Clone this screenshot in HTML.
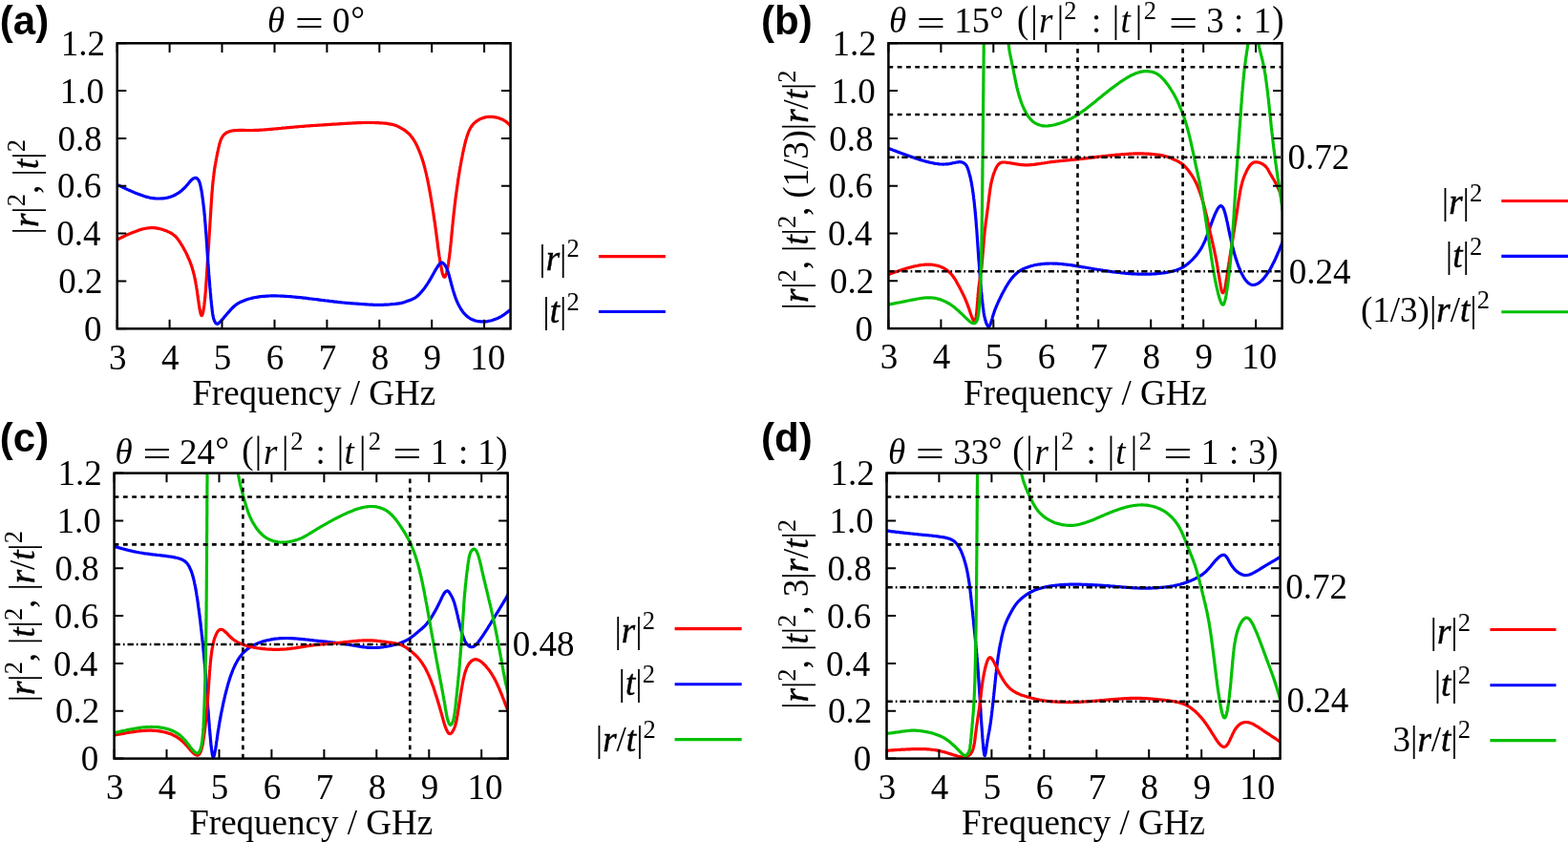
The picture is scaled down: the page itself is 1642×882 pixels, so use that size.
<!DOCTYPE html>
<html><head><meta charset="utf-8"><style>html,body{margin:0;padding:0;background:#fff;overflow:hidden}svg{display:block}</style></head>
<body>
<svg width="1642" height="882" viewBox="0 0 1642 882">
<rect width="100%" height="100%" fill="#fff"/>
<defs>
<clipPath id="clipa"><rect x="122.7" y="45.3" width="411.90000000000003" height="299.0"/></clipPath>
<clipPath id="clipb"><rect x="930.4" y="45.3" width="412.19999999999993" height="298.8"/></clipPath>
<clipPath id="clipc"><rect x="119.6" y="495.6" width="412.1" height="299.0"/></clipPath>
<clipPath id="clipd"><rect x="928.5" y="495.6" width="412.0999999999999" height="299.0"/></clipPath>
</defs>
<g clip-path="url(#clipa)" fill="none" stroke-width="3.2" stroke-linejoin="round" stroke-linecap="round">
<path stroke="#ff0000" d="M121.6,251.6 L122.9,251.0 L124.2,250.3 L125.5,249.6 L126.8,249.0 L128.2,248.3 L129.5,247.7 L130.8,247.1 L132.2,246.4 L133.6,245.8 L134.9,245.2 L136.3,244.6 L137.7,244.0 L139.2,243.4 L140.5,242.9 L141.8,242.4 L143.2,241.9 L144.5,241.4 L145.9,240.9 L147.3,240.5 L148.7,240.1 L150.1,239.8 L151.5,239.5 L152.9,239.2 L154.3,239.0 L155.8,238.8 L157.2,238.7 L158.6,238.6 L160.0,238.7 L161.6,238.7 L163.1,238.9 L164.6,239.1 L166.0,239.4 L167.5,239.7 L168.9,240.0 L170.3,240.5 L171.7,240.9 L173.0,241.4 L174.2,241.8 L175.4,242.4 L176.6,242.9 L177.6,243.4 L178.8,244.0 L180.0,244.7 L181.0,245.4 L182.0,246.2 L183.0,247.0 L184.0,247.9 L184.9,248.9 L185.9,250.1 L186.5,251.0 L187.3,252.0 L188.0,253.0 L188.7,254.1 L189.4,255.3 L190.2,256.5 L190.9,257.7 L191.7,259.0 L192.4,260.3 L193.1,261.7 L193.9,263.0 L194.6,264.4 L195.3,265.8 L196.0,267.3 L196.6,268.7 L197.3,270.2 L197.9,271.6 L198.5,273.0 L199.0,274.3 L199.5,275.6 L200.0,276.9 L200.4,278.1 L200.8,279.4 L201.3,280.7 L201.6,282.0 L202.0,283.3 L202.4,284.6 L202.7,285.9 L203.1,287.2 L203.4,288.6 L203.7,290.0 L204.0,291.4 L204.3,292.8 L204.6,294.2 L204.9,295.7 L205.1,297.2 L205.4,298.8 L205.7,300.4 L205.9,302.0 L206.2,303.7 L206.5,305.5 L206.7,307.4 L207.0,309.3 L207.3,311.3 L207.5,313.2 L207.8,315.1 L208.1,316.9 L208.3,318.7 L208.6,320.4 L208.8,322.1 L209.1,323.6 L209.4,325.1 L209.6,326.4 L209.9,327.5 L210.1,328.5 L210.4,329.3 L210.6,330.0 L210.9,330.4 L211.1,330.6 L211.5,330.5 L211.9,329.8 L212.2,328.8 L212.6,327.4 L212.9,325.6 L213.3,323.7 L213.6,321.6 L213.9,319.4 L214.0,318.1 L214.2,316.7 L214.3,315.4 L214.5,314.0 L214.6,312.6 L214.8,311.3 L214.9,309.9 L215.0,308.5 L215.1,307.0 L215.3,305.6 L215.4,304.2 L215.5,302.7 L215.6,301.2 L215.7,299.8 L215.8,298.3 L215.9,296.7 L216.0,295.2 L216.1,293.7 L216.2,292.1 L216.3,290.6 L216.4,289.0 L216.5,287.4 L216.6,285.7 L216.7,284.4 L216.8,283.1 L216.9,281.7 L217.0,280.4 L217.0,279.0 L217.1,277.7 L217.2,276.3 L217.3,274.9 L217.4,273.5 L217.5,272.1 L217.6,270.6 L217.7,269.2 L217.8,267.8 L217.9,266.3 L218.0,264.9 L218.1,263.4 L218.2,262.0 L218.3,260.5 L218.4,259.0 L218.5,257.5 L218.6,256.0 L218.7,254.5 L218.7,253.0 L218.8,251.5 L218.9,250.0 L219.0,248.5 L219.1,247.0 L219.2,245.5 L219.3,243.9 L219.4,242.4 L219.5,240.9 L219.6,239.3 L219.7,237.8 L219.8,236.2 L219.9,234.7 L220.0,233.1 L220.1,231.5 L220.2,229.9 L220.3,228.3 L220.4,226.7 L220.5,225.1 L220.6,223.5 L220.7,221.9 L220.8,220.3 L220.9,218.7 L221.0,217.1 L221.1,215.6 L221.2,214.0 L221.3,212.4 L221.4,210.9 L221.5,209.3 L221.6,207.8 L221.7,206.3 L221.8,204.7 L221.9,203.2 L222.0,201.8 L222.2,200.3 L222.3,198.8 L222.4,197.4 L222.5,195.9 L222.6,194.5 L222.8,193.1 L222.9,191.7 L223.0,190.4 L223.2,189.0 L223.3,187.7 L223.5,186.4 L223.6,185.1 L223.8,183.8 L224.0,182.2 L224.2,180.6 L224.4,179.0 L224.6,177.4 L224.9,175.9 L225.1,174.4 L225.3,173.0 L225.6,171.6 L225.8,170.2 L226.1,168.8 L226.3,167.4 L226.6,166.1 L226.8,164.8 L227.1,163.5 L227.4,162.2 L227.6,160.9 L227.9,159.7 L228.1,158.4 L228.5,156.8 L228.8,155.2 L229.2,153.6 L229.5,152.1 L229.9,150.6 L230.4,149.2 L230.8,147.8 L231.3,146.5 L231.8,145.2 L232.4,144.1 L233.1,143.0 L234.0,141.7 L235.0,140.7 L236.2,139.7 L237.4,138.9 L238.8,138.2 L240.3,137.7 L241.9,137.2 L243.1,137.0 L244.3,136.8 L245.6,136.7 L247.0,136.6 L248.4,136.5 L249.8,136.4 L251.3,136.4 L252.8,136.4 L254.3,136.4 L255.9,136.4 L257.4,136.5 L259.0,136.5 L260.6,136.5 L262.2,136.5 L263.7,136.5 L265.1,136.5 L266.6,136.4 L268.0,136.4 L269.5,136.3 L271.0,136.3 L272.4,136.2 L273.9,136.1 L275.4,136.0 L276.9,135.9 L278.3,135.8 L279.8,135.7 L281.3,135.5 L282.9,135.4 L284.4,135.3 L285.9,135.1 L287.5,135.0 L288.8,134.9 L290.1,134.8 L291.5,134.6 L292.8,134.5 L294.2,134.4 L295.6,134.2 L297.0,134.1 L298.4,134.0 L299.8,133.8 L301.2,133.7 L302.6,133.6 L304.1,133.4 L305.5,133.3 L307.0,133.2 L308.5,133.0 L310.0,132.9 L311.5,132.8 L313.1,132.6 L314.6,132.5 L316.2,132.4 L317.8,132.3 L319.3,132.1 L321.0,132.0 L322.5,131.9 L324.0,131.8 L325.5,131.7 L327.0,131.6 L328.5,131.5 L330.1,131.4 L331.6,131.3 L333.2,131.2 L334.7,131.1 L336.2,131.0 L337.8,130.9 L339.3,130.8 L340.8,130.7 L342.3,130.6 L343.8,130.5 L345.3,130.4 L346.7,130.3 L348.2,130.2 L349.6,130.1 L351.0,130.1 L352.4,130.0 L353.7,129.9 L355.0,129.8 L356.3,129.7 L357.6,129.7 L358.8,129.6 L360.0,129.5 L361.5,129.4 L363.0,129.3 L364.5,129.2 L365.9,129.1 L367.2,129.1 L368.6,129.0 L369.9,128.9 L371.2,128.8 L372.6,128.8 L373.9,128.7 L375.3,128.6 L376.7,128.6 L378.2,128.6 L379.7,128.5 L381.1,128.5 L382.6,128.5 L384.0,128.5 L385.5,128.5 L387.1,128.5 L388.6,128.5 L390.2,128.5 L391.8,128.5 L393.3,128.6 L394.9,128.6 L396.5,128.7 L398.0,128.8 L399.5,128.9 L401.0,129.0 L402.5,129.1 L403.9,129.2 L405.2,129.4 L406.5,129.6 L407.7,129.8 L409.3,130.1 L410.8,130.4 L412.2,130.8 L413.5,131.2 L414.7,131.6 L415.9,132.1 L417.0,132.6 L418.2,133.2 L419.3,133.8 L420.4,134.4 L421.6,135.1 L422.8,135.8 L424.0,136.6 L425.1,137.4 L426.3,138.4 L427.5,139.4 L428.6,140.5 L429.7,141.7 L430.5,142.7 L431.3,143.7 L432.1,144.8 L432.8,145.9 L433.6,147.1 L434.3,148.3 L435.0,149.5 L435.7,150.8 L436.4,152.2 L437.0,153.5 L437.7,155.0 L438.3,156.4 L438.9,157.8 L439.5,159.3 L440.1,160.8 L440.7,162.4 L441.2,163.9 L441.7,165.3 L442.1,166.6 L442.6,168.0 L443.0,169.3 L443.4,170.7 L443.8,172.1 L444.2,173.5 L444.6,175.0 L445.0,176.4 L445.3,177.8 L445.7,179.3 L446.0,180.7 L446.4,182.2 L446.7,183.6 L447.0,185.1 L447.4,186.6 L447.7,188.1 L448.0,189.6 L448.3,191.1 L448.6,192.7 L448.9,194.2 L449.2,195.7 L449.5,197.3 L449.7,198.7 L450.0,200.0 L450.2,201.4 L450.5,202.8 L450.7,204.2 L451.0,205.6 L451.2,207.0 L451.5,208.4 L451.7,209.9 L451.9,211.3 L452.2,212.7 L452.4,214.1 L452.6,215.6 L452.9,217.0 L453.1,218.4 L453.3,219.9 L453.5,221.3 L453.8,222.8 L454.0,224.3 L454.2,225.7 L454.4,227.2 L454.6,228.6 L454.8,230.1 L455.0,231.6 L455.3,233.0 L455.5,234.5 L455.7,236.0 L455.9,237.4 L456.1,238.9 L456.3,240.4 L456.5,241.9 L456.7,243.5 L456.9,245.0 L457.1,246.5 L457.3,248.0 L457.5,249.5 L457.7,251.0 L457.9,252.5 L458.1,254.0 L458.3,255.5 L458.4,257.0 L458.6,258.5 L458.8,259.9 L459.0,261.4 L459.2,262.8 L459.4,264.2 L459.6,265.7 L459.8,267.1 L460.0,268.5 L460.3,269.8 L460.5,271.2 L460.7,272.5 L460.9,273.9 L461.1,275.2 L461.3,276.5 L461.6,277.8 L462.0,279.9 L462.4,282.0 L462.8,283.9 L463.2,285.7 L463.6,287.2 L464.1,288.4 L464.5,289.4 L465.0,290.0 L465.4,290.2 L465.8,290.0 L466.3,289.5 L466.7,288.5 L467.2,287.3 L467.6,285.8 L468.0,284.0 L468.5,282.1 L468.9,280.0 L469.2,277.8 L469.5,276.5 L469.7,275.2 L469.8,273.9 L470.0,272.6 L470.2,271.2 L470.4,269.8 L470.6,268.4 L470.8,267.0 L470.9,265.6 L471.1,264.2 L471.3,262.7 L471.4,261.2 L471.6,259.8 L471.8,258.3 L471.9,256.7 L472.1,255.2 L472.2,253.7 L472.4,252.2 L472.5,250.6 L472.7,249.1 L472.8,247.5 L473.0,246.0 L473.1,244.4 L473.3,242.8 L473.4,241.3 L473.6,239.7 L473.7,238.1 L473.9,236.6 L474.0,235.0 L474.2,233.4 L474.3,231.9 L474.5,230.3 L474.7,228.8 L474.8,227.2 L475.0,225.7 L475.2,224.1 L475.3,222.6 L475.5,221.1 L475.7,219.5 L475.9,218.0 L476.0,216.5 L476.2,215.0 L476.4,213.5 L476.6,212.0 L476.8,210.5 L476.9,209.0 L477.1,207.6 L477.3,206.1 L477.5,204.6 L477.7,203.2 L477.9,201.7 L478.1,200.3 L478.3,198.9 L478.5,197.4 L478.7,196.0 L478.9,194.6 L479.1,193.2 L479.3,191.8 L479.5,190.4 L479.7,189.1 L479.9,187.5 L480.1,186.0 L480.4,184.5 L480.6,183.0 L480.9,181.4 L481.1,180.0 L481.3,178.5 L481.6,177.0 L481.8,175.5 L482.1,174.1 L482.4,172.6 L482.6,171.2 L482.9,169.7 L483.1,168.3 L483.4,166.9 L483.7,165.5 L484.0,164.1 L484.2,162.7 L484.5,161.3 L484.8,159.9 L485.1,158.5 L485.4,157.1 L485.7,155.7 L486.1,154.1 L486.5,152.5 L486.8,150.9 L487.2,149.3 L487.6,147.7 L488.0,146.2 L488.5,144.7 L488.9,143.2 L489.4,141.8 L489.9,140.4 L490.4,139.0 L490.9,137.7 L491.5,136.4 L492.1,135.2 L492.7,134.1 L493.3,133.0 L494.0,132.0 L495.0,130.7 L496.1,129.4 L497.2,128.4 L498.4,127.4 L499.6,126.6 L500.8,125.8 L502.0,125.1 L503.3,124.5 L504.6,124.0 L505.9,123.5 L507.3,123.1 L508.7,122.7 L510.1,122.5 L511.6,122.3 L513.2,122.3 L514.5,122.3 L515.9,122.4 L517.3,122.6 L518.8,122.8 L520.2,123.1 L521.6,123.5 L523.0,123.9 L524.4,124.4 L525.7,124.9 L526.9,125.5 L528.2,126.3 L529.5,127.1 L530.6,128.0 L531.7,129.0 L532.7,129.9 L533.7,130.9 L534.7,132.0 L535.7,133.0"/>
<path stroke="#0000ff" d="M121.6,192.8 L122.9,193.5 L124.3,194.1 L125.6,194.8 L127.0,195.4 L128.3,196.1 L129.7,196.7 L131.0,197.4 L132.4,198.0 L133.7,198.6 L135.1,199.2 L136.4,199.8 L137.8,200.4 L139.2,201.0 L140.6,201.6 L142.0,202.2 L143.4,202.8 L144.8,203.3 L146.2,203.8 L147.6,204.3 L149.0,204.8 L150.4,205.3 L151.7,205.7 L153.0,206.1 L154.4,206.4 L155.7,206.8 L157.1,207.1 L158.4,207.3 L159.8,207.6 L161.1,207.7 L162.5,207.9 L163.8,208.0 L165.1,208.0 L166.4,208.0 L167.7,208.0 L169.1,207.9 L170.5,207.8 L171.9,207.7 L173.3,207.5 L174.7,207.2 L176.1,206.9 L177.5,206.5 L178.9,206.1 L180.4,205.5 L181.7,205.0 L183.0,204.3 L184.2,203.7 L185.5,202.9 L186.8,202.1 L188.0,201.3 L189.2,200.4 L190.3,199.5 L191.4,198.5 L192.5,197.6 L193.5,196.5 L194.7,195.3 L195.7,194.1 L196.8,192.9 L197.7,191.7 L198.6,190.6 L199.5,189.6 L200.4,188.6 L201.2,187.8 L202.6,186.9 L203.9,186.4 L205.1,186.3 L206.1,186.8 L207.0,187.5 L207.8,188.6 L208.4,189.5 L208.8,190.6 L209.3,191.8 L209.6,193.2 L210.0,194.8 L210.2,195.8 L210.4,196.8 L210.6,197.9 L210.8,199.0 L211.1,200.2 L211.3,201.5 L211.5,202.8 L211.7,204.2 L211.9,205.6 L212.1,207.1 L212.3,208.6 L212.5,210.1 L212.7,211.7 L212.9,213.4 L213.1,215.0 L213.3,216.7 L213.5,218.4 L213.7,220.2 L213.9,222.0 L214.0,223.3 L214.1,224.6 L214.3,226.0 L214.4,227.3 L214.5,228.7 L214.6,230.1 L214.7,231.5 L214.9,232.9 L215.0,234.3 L215.1,235.7 L215.2,237.2 L215.3,238.6 L215.4,240.1 L215.5,241.5 L215.6,243.0 L215.8,244.4 L215.9,245.9 L216.0,247.4 L216.1,248.9 L216.2,250.3 L216.3,251.8 L216.4,253.3 L216.5,254.8 L216.6,256.3 L216.7,257.9 L216.8,259.4 L216.9,260.9 L217.0,262.4 L217.1,263.9 L217.2,265.4 L217.3,267.0 L217.4,268.5 L217.5,270.0 L217.6,271.5 L217.7,273.0 L217.8,274.6 L217.9,276.2 L218.0,277.8 L218.2,279.4 L218.3,280.9 L218.4,282.5 L218.5,284.1 L218.6,285.6 L218.7,287.2 L218.9,288.7 L219.0,290.3 L219.1,291.8 L219.2,293.3 L219.3,294.8 L219.5,296.3 L219.6,297.8 L219.7,299.3 L219.8,300.7 L220.0,302.2 L220.1,303.6 L220.2,305.0 L220.3,306.4 L220.5,307.8 L220.6,309.2 L220.7,310.5 L220.8,311.9 L220.9,313.2 L221.1,314.5 L221.2,315.7 L221.3,317.0 L221.4,318.2 L221.6,319.4 L221.8,321.3 L222.0,323.1 L222.2,324.9 L222.4,326.6 L222.6,328.2 L222.9,329.8 L223.1,331.2 L223.4,332.5 L223.7,333.8 L224.1,334.9 L224.4,335.9 L224.9,336.8 L225.7,338.2 L226.6,339.0 L227.6,339.3 L228.5,339.0 L229.4,338.3 L230.3,337.3 L231.2,336.4 L232.1,335.4 L233.1,334.3 L234.2,333.1 L235.0,332.1 L235.9,331.0 L236.9,329.9 L237.8,328.7 L238.8,327.6 L239.9,326.4 L240.9,325.2 L241.9,324.1 L242.9,323.0 L244.0,322.0 L245.0,321.0 L246.1,320.1 L247.2,319.2 L248.3,318.4 L249.6,317.6 L250.6,317.0 L251.7,316.5 L252.9,315.9 L254.1,315.4 L255.3,314.9 L256.6,314.4 L257.9,313.9 L259.3,313.5 L260.7,313.0 L262.2,312.7 L263.4,312.4 L264.7,312.1 L266.0,311.8 L267.3,311.5 L268.6,311.3 L270.0,311.1 L271.4,310.9 L272.8,310.7 L274.3,310.5 L275.8,310.4 L277.3,310.3 L278.8,310.2 L280.4,310.1 L282.0,310.0 L283.6,309.9 L285.3,309.9 L286.6,309.9 L288.0,309.9 L289.5,309.9 L290.9,310.0 L292.3,310.0 L293.8,310.1 L295.3,310.1 L296.8,310.2 L298.2,310.3 L299.7,310.4 L301.3,310.5 L302.8,310.6 L304.3,310.7 L305.8,310.8 L307.3,311.0 L308.9,311.1 L310.4,311.3 L311.9,311.4 L313.4,311.6 L314.9,311.7 L316.5,311.9 L318.0,312.1 L319.5,312.2 L321.0,312.4 L322.5,312.6 L324.0,312.8 L325.6,313.0 L327.1,313.2 L328.6,313.3 L330.1,313.5 L331.6,313.7 L333.1,313.9 L334.6,314.1 L336.1,314.3 L337.5,314.5 L339.0,314.7 L340.5,314.9 L341.9,315.0 L343.4,315.2 L344.8,315.4 L346.2,315.6 L347.7,315.7 L349.1,315.9 L350.5,316.1 L351.9,316.2 L353.4,316.4 L354.9,316.6 L356.5,316.7 L358.0,316.9 L359.6,317.0 L361.1,317.2 L362.6,317.3 L364.1,317.4 L365.6,317.6 L367.1,317.7 L368.6,317.8 L370.1,317.9 L371.5,318.0 L372.9,318.1 L374.3,318.2 L375.7,318.4 L377.1,318.4 L378.4,318.5 L379.7,318.6 L381.3,318.7 L382.8,318.8 L384.3,318.9 L385.7,319.0 L387.2,319.1 L388.6,319.2 L390.0,319.2 L391.3,319.3 L392.7,319.3 L394.1,319.4 L395.4,319.4 L396.8,319.4 L398.2,319.4 L399.7,319.3 L401.2,319.3 L402.6,319.2 L404.1,319.1 L405.5,319.1 L406.9,319.0 L408.3,318.9 L409.7,318.7 L411.0,318.6 L412.4,318.5 L413.8,318.4 L415.2,318.2 L416.5,318.1 L417.8,317.9 L419.0,317.7 L420.3,317.4 L421.5,317.1 L422.8,316.7 L424.2,316.3 L425.5,315.8 L426.7,315.3 L428.0,314.9 L429.2,314.4 L430.5,313.9 L431.8,313.4 L433.1,312.8 L434.4,312.1 L435.7,311.2 L436.6,310.5 L437.5,309.7 L438.5,308.8 L439.4,307.9 L440.3,306.9 L441.3,305.8 L442.2,304.7 L443.2,303.6 L444.1,302.4 L445.0,301.2 L445.9,299.9 L446.7,298.7 L447.6,297.4 L448.5,296.0 L449.3,294.7 L450.1,293.4 L450.8,292.1 L451.6,290.8 L452.3,289.5 L453.0,288.3 L453.7,287.1 L454.3,285.9 L455.0,284.7 L455.7,283.4 L456.5,282.2 L457.2,281.0 L457.9,279.9 L458.6,278.8 L459.2,277.9 L459.9,277.0 L460.8,276.0 L461.7,275.3 L462.7,275.0 L463.6,275.3 L464.5,276.1 L465.4,277.0 L466.1,278.0 L466.8,279.0 L467.4,280.2 L468.1,281.6 L468.7,283.3 L469.0,284.3 L469.4,285.4 L469.7,286.5 L470.1,287.7 L470.4,289.0 L470.8,290.4 L471.2,291.8 L471.6,293.2 L471.9,294.7 L472.3,296.2 L472.7,297.7 L473.1,299.3 L473.6,300.8 L474.0,302.4 L474.4,303.9 L474.9,305.4 L475.4,306.9 L475.8,308.4 L476.4,310.0 L476.9,311.6 L477.5,313.1 L478.1,314.6 L478.7,316.0 L479.3,317.4 L479.9,318.7 L480.6,320.0 L481.3,321.3 L482.0,322.5 L482.7,323.7 L483.4,324.8 L484.2,325.9 L484.9,326.9 L485.7,327.9 L486.8,329.1 L487.9,330.2 L489.0,331.2 L490.2,332.1 L491.4,333.0 L492.7,333.8 L494.0,334.5 L495.3,335.1 L496.7,335.6 L498.0,336.0 L499.3,336.3 L500.7,336.6 L502.0,336.7 L503.4,336.9 L504.8,336.9 L506.2,336.9 L507.6,336.9 L509.0,336.8 L510.4,336.6 L511.9,336.3 L513.3,336.0 L514.7,335.7 L516.1,335.3 L517.5,334.8 L518.9,334.3 L520.3,333.8 L521.6,333.2 L522.9,332.5 L524.2,331.8 L525.4,331.1 L526.6,330.3 L527.8,329.6 L529.0,328.7 L530.1,327.9 L531.3,327.0 L532.4,326.1 L533.5,325.2 L534.6,324.3 L535.7,323.4"/>
</g>
<path d="M122.7,344.3v-9.6M122.7,45.3v9.6M177.6,344.3v-9.6M177.6,45.3v9.6M232.5,344.3v-9.6M232.5,45.3v9.6M287.5,344.3v-9.6M287.5,45.3v9.6M342.4,344.3v-9.6M342.4,45.3v9.6M397.3,344.3v-9.6M397.3,45.3v9.6M452.2,344.3v-9.6M452.2,45.3v9.6M507.1,344.3v-9.6M507.1,45.3v9.6M122.7,344.3h9.6M534.6,344.3h-9.6M122.7,294.5h9.6M534.6,294.5h-9.6M122.7,244.6h9.6M534.6,244.6h-9.6M122.7,194.8h9.6M534.6,194.8h-9.6M122.7,145.0h9.6M534.6,145.0h-9.6M122.7,95.1h9.6M534.6,95.1h-9.6M122.7,45.3h9.6M534.6,45.3h-9.6" stroke="#000" stroke-width="2" fill="none"/>
<rect x="122.7" y="45.3" width="411.9" height="299.0" fill="none" stroke="#000" stroke-width="2.5"/>
<text x="87.9" y="356.9" font-family="'Liberation Serif', serif" font-size="37" text-anchor="start">0</text>
<text x="61.2" y="307.1" font-family="'Liberation Serif', serif" font-size="37" text-anchor="start">0.2</text>
<text x="59.2" y="257.2" font-family="'Liberation Serif', serif" font-size="37" text-anchor="start">0.4</text>
<text x="60.1" y="207.4" font-family="'Liberation Serif', serif" font-size="37" text-anchor="start">0.6</text>
<text x="60.6" y="157.6" font-family="'Liberation Serif', serif" font-size="37" text-anchor="start">0.8</text>
<text x="62.7" y="107.7" font-family="'Liberation Serif', serif" font-size="37" text-anchor="start">1.0</text>
<text x="63.8" y="57.9" font-family="'Liberation Serif', serif" font-size="37" text-anchor="start">1.2</text>
<text x="123.3" y="386.5" font-family="'Liberation Serif', serif" font-size="37" text-anchor="middle">3</text>
<text x="178.2" y="386.5" font-family="'Liberation Serif', serif" font-size="37" text-anchor="middle">4</text>
<text x="233.1" y="386.5" font-family="'Liberation Serif', serif" font-size="37" text-anchor="middle">5</text>
<text x="288.1" y="386.5" font-family="'Liberation Serif', serif" font-size="37" text-anchor="middle">6</text>
<text x="343.0" y="386.5" font-family="'Liberation Serif', serif" font-size="37" text-anchor="middle">7</text>
<text x="397.9" y="386.5" font-family="'Liberation Serif', serif" font-size="37" text-anchor="middle">8</text>
<text x="452.8" y="386.5" font-family="'Liberation Serif', serif" font-size="37" text-anchor="middle">9</text>
<text x="510.8" y="386.5" font-family="'Liberation Serif', serif" font-size="37" text-anchor="middle">10</text>
<text x="328.7" y="423.8" font-family="'Liberation Serif', serif" font-size="37" text-anchor="middle">Frequency / GHz</text>
<g clip-path="url(#clipb)" fill="none" stroke-width="3.2" stroke-linejoin="round" stroke-linecap="round">
<path stroke="#0000ff" d="M929.3,154.9 L930.6,155.4 L932.0,155.9 L933.3,156.4 L934.6,157.0 L935.9,157.5 L937.3,158.0 L938.6,158.5 L939.9,159.1 L941.3,159.6 L942.6,160.1 L944.0,160.6 L945.3,161.1 L946.7,161.6 L948.1,162.1 L949.4,162.6 L950.8,163.1 L952.2,163.6 L953.6,164.1 L955.0,164.6 L956.5,165.1 L957.9,165.6 L959.3,166.0 L960.8,166.5 L962.3,167.0 L963.8,167.4 L965.3,167.9 L966.8,168.3 L968.2,168.7 L969.7,169.1 L971.2,169.5 L972.6,169.9 L974.0,170.2 L975.5,170.5 L976.9,170.8 L978.2,171.1 L979.6,171.3 L980.9,171.5 L982.2,171.7 L983.5,171.9 L984.7,172.0 L985.9,172.0 L987.6,172.1 L989.3,172.0 L990.9,171.9 L992.4,171.8 L993.8,171.6 L995.2,171.3 L996.5,171.1 L997.8,170.8 L999.1,170.5 L1000.5,170.3 L1001.9,170.0 L1003.2,169.8 L1004.5,169.7 L1005.7,169.7 L1006.8,169.8 L1008.3,170.3 L1009.6,171.0 L1010.6,171.8 L1011.5,172.7 L1012.2,173.7 L1012.8,175.0 L1013.2,175.9 L1013.6,176.8 L1013.9,177.8 L1014.3,179.0 L1014.7,180.2 L1015.0,181.6 L1015.4,183.0 L1015.8,184.5 L1016.2,186.0 L1016.5,187.7 L1016.9,189.4 L1017.2,191.2 L1017.5,192.4 L1017.7,193.7 L1017.9,194.9 L1018.1,196.2 L1018.3,197.5 L1018.5,198.8 L1018.7,200.2 L1018.9,201.6 L1019.1,203.0 L1019.3,204.4 L1019.5,205.8 L1019.6,207.2 L1019.8,208.7 L1020.0,210.2 L1020.2,211.6 L1020.3,213.1 L1020.5,214.6 L1020.6,216.1 L1020.8,217.7 L1021.0,219.2 L1021.1,220.7 L1021.2,222.3 L1021.4,223.8 L1021.5,225.3 L1021.7,226.9 L1021.8,228.4 L1021.9,230.0 L1022.1,231.5 L1022.2,233.0 L1022.3,234.6 L1022.4,236.1 L1022.5,237.6 L1022.7,239.1 L1022.8,240.5 L1022.9,242.0 L1023.0,243.5 L1023.1,245.0 L1023.2,246.5 L1023.3,248.0 L1023.4,249.5 L1023.5,251.0 L1023.6,252.4 L1023.7,253.9 L1023.8,255.4 L1023.9,256.9 L1024.0,258.4 L1024.1,259.9 L1024.2,261.3 L1024.3,262.8 L1024.4,264.3 L1024.5,265.8 L1024.6,267.3 L1024.7,268.8 L1024.8,270.3 L1024.9,271.8 L1025.0,273.3 L1025.2,274.8 L1025.3,276.3 L1025.4,277.8 L1025.5,279.4 L1025.6,280.9 L1025.7,282.5 L1025.8,284.0 L1025.9,285.6 L1026.1,287.1 L1026.2,288.7 L1026.3,290.3 L1026.4,291.8 L1026.6,293.4 L1026.7,294.9 L1026.8,296.4 L1027.0,297.9 L1027.1,299.5 L1027.2,301.0 L1027.4,302.4 L1027.5,303.9 L1027.6,305.4 L1027.8,306.8 L1027.9,308.2 L1028.0,309.6 L1028.2,311.0 L1028.3,312.4 L1028.5,313.7 L1028.6,315.0 L1028.8,316.3 L1028.9,317.6 L1029.0,318.8 L1029.2,320.0 L1029.3,321.2 L1029.6,322.9 L1029.8,324.6 L1030.0,326.2 L1030.2,327.7 L1030.5,329.2 L1030.7,330.6 L1031.0,331.9 L1031.3,333.2 L1031.6,334.5 L1031.9,335.6 L1032.3,336.8 L1032.6,337.9 L1033.3,339.5 L1034.0,340.9 L1034.7,341.8 L1035.4,342.1 L1036.0,341.7 L1036.6,340.8 L1037.1,339.6 L1037.6,338.2 L1038.1,336.6 L1038.5,335.4 L1038.9,334.1 L1039.2,332.9 L1039.6,331.6 L1040.0,330.3 L1040.4,328.9 L1040.9,327.5 L1041.4,325.9 L1041.8,324.8 L1042.3,323.7 L1042.8,322.4 L1043.3,321.2 L1043.8,319.9 L1044.4,318.6 L1045.0,317.2 L1045.6,315.9 L1046.2,314.5 L1046.9,313.1 L1047.6,311.7 L1048.3,310.2 L1049.0,308.8 L1049.7,307.4 L1050.5,306.0 L1051.2,304.6 L1052.0,303.2 L1052.7,301.9 L1053.5,300.5 L1054.4,299.1 L1055.2,297.7 L1056.1,296.4 L1056.9,295.1 L1057.8,293.8 L1058.7,292.6 L1059.6,291.4 L1060.6,290.3 L1061.6,289.2 L1062.6,288.2 L1063.6,287.2 L1064.7,286.2 L1065.8,285.3 L1067.0,284.4 L1068.2,283.6 L1069.4,282.8 L1070.7,282.2 L1071.9,281.5 L1073.2,281.0 L1074.5,280.4 L1075.9,279.9 L1077.2,279.4 L1078.7,279.0 L1080.1,278.5 L1081.6,278.2 L1083.0,277.8 L1084.6,277.5 L1086.1,277.2 L1087.6,277.0 L1089.1,276.8 L1090.7,276.6 L1092.3,276.4 L1093.8,276.3 L1095.4,276.2 L1096.9,276.1 L1098.4,276.1 L1099.8,276.0 L1101.2,276.0 L1102.6,276.1 L1104.0,276.1 L1105.4,276.1 L1106.9,276.2 L1108.3,276.3 L1109.7,276.4 L1111.1,276.5 L1112.5,276.6 L1114.0,276.8 L1115.4,277.0 L1116.9,277.1 L1118.3,277.3 L1119.8,277.5 L1121.3,277.7 L1122.7,277.9 L1124.2,278.1 L1125.7,278.4 L1127.3,278.6 L1128.8,278.9 L1130.2,279.1 L1131.6,279.3 L1133.0,279.6 L1134.4,279.8 L1135.9,280.0 L1137.3,280.3 L1138.8,280.5 L1140.2,280.8 L1141.7,281.0 L1143.2,281.3 L1144.6,281.5 L1146.1,281.8 L1147.6,282.0 L1149.1,282.3 L1150.6,282.5 L1152.1,282.7 L1153.6,283.0 L1155.1,283.2 L1156.6,283.5 L1158.1,283.7 L1159.6,283.9 L1161.1,284.1 L1162.6,284.4 L1164.1,284.6 L1165.6,284.8 L1167.1,285.0 L1168.5,285.2 L1170.0,285.3 L1171.6,285.5 L1173.2,285.7 L1174.7,285.9 L1176.3,286.0 L1177.9,286.2 L1179.4,286.3 L1180.9,286.4 L1182.5,286.6 L1184.0,286.7 L1185.5,286.8 L1187.0,286.9 L1188.5,286.9 L1189.9,287.0 L1191.4,287.1 L1192.8,287.1 L1194.3,287.2 L1195.7,287.2 L1197.1,287.2 L1198.5,287.2 L1199.9,287.2 L1201.2,287.2 L1202.6,287.2 L1203.9,287.1 L1205.2,287.1 L1206.8,287.0 L1208.4,286.9 L1210.0,286.8 L1211.5,286.7 L1213.0,286.5 L1214.5,286.4 L1216.0,286.2 L1217.4,286.0 L1218.8,285.8 L1220.2,285.6 L1221.5,285.4 L1222.9,285.1 L1224.1,284.9 L1225.4,284.6 L1226.6,284.3 L1228.1,284.0 L1229.6,283.6 L1231.0,283.2 L1232.4,282.7 L1233.7,282.2 L1235.1,281.7 L1236.4,281.1 L1237.7,280.4 L1239.1,279.7 L1240.4,278.9 L1241.5,278.1 L1242.6,277.3 L1243.7,276.5 L1244.8,275.6 L1245.8,274.6 L1246.9,273.6 L1248.0,272.6 L1249.0,271.6 L1250.0,270.5 L1251.0,269.4 L1252.0,268.3 L1252.9,267.2 L1253.8,266.0 L1254.7,264.9 L1255.4,263.8 L1256.2,262.8 L1256.9,261.7 L1257.6,260.6 L1258.3,259.4 L1258.9,258.3 L1259.5,257.1 L1260.1,255.8 L1260.8,254.5 L1261.4,253.2 L1262.0,251.8 L1262.6,250.3 L1263.2,248.8 L1263.8,247.2 L1264.5,245.5 L1265.1,243.8 L1265.7,242.1 L1266.3,240.4 L1266.9,238.7 L1267.5,237.0 L1268.2,235.2 L1268.8,233.4 L1269.5,231.6 L1270.1,229.9 L1270.8,228.2 L1271.5,226.5 L1272.1,224.9 L1272.8,223.4 L1273.4,222.0 L1274.1,220.7 L1274.7,219.5 L1275.3,218.4 L1276.0,217.5 L1276.6,216.8 L1277.2,216.2 L1277.7,215.8 L1278.3,215.6 L1278.9,215.7 L1279.5,215.9 L1280.0,216.5 L1280.6,217.2 L1281.1,218.1 L1281.6,219.3 L1282.1,220.6 L1282.5,222.0 L1283.0,223.6 L1283.4,225.2 L1283.9,227.0 L1284.3,228.9 L1284.7,230.8 L1285.2,232.8 L1285.6,234.8 L1286.0,236.8 L1286.3,238.3 L1286.6,239.9 L1286.9,241.4 L1287.3,242.9 L1287.6,244.4 L1287.9,245.9 L1288.2,247.5 L1288.6,249.0 L1288.9,250.5 L1289.2,252.0 L1289.6,253.4 L1289.9,254.9 L1290.3,256.4 L1290.6,257.9 L1291.0,259.3 L1291.3,260.8 L1291.7,262.2 L1292.1,263.7 L1292.5,265.1 L1292.9,266.5 L1293.3,267.9 L1293.7,269.3 L1294.2,270.7 L1294.6,272.1 L1295.1,273.5 L1295.5,274.8 L1296.0,276.2 L1296.5,277.5 L1297.0,278.9 L1297.7,280.6 L1298.4,282.4 L1299.1,284.1 L1299.9,285.7 L1300.7,287.3 L1301.5,288.8 L1302.3,290.3 L1303.2,291.6 L1304.0,292.9 L1304.9,294.0 L1305.8,295.1 L1306.8,296.0 L1307.7,296.8 L1308.7,297.4 L1309.7,297.9 L1310.7,298.3 L1311.9,298.5 L1313.1,298.4 L1314.2,298.2 L1315.5,297.8 L1316.7,297.3 L1317.9,296.6 L1319.1,295.7 L1320.3,294.7 L1321.5,293.6 L1322.7,292.3 L1323.9,291.0 L1325.0,289.6 L1325.8,288.6 L1326.5,287.5 L1327.3,286.4 L1328.0,285.3 L1328.7,284.1 L1329.5,283.0 L1330.2,281.8 L1330.9,280.5 L1331.6,279.2 L1332.2,278.0 L1332.9,276.6 L1333.6,275.3 L1334.3,274.0 L1334.9,272.6 L1335.6,271.2 L1336.2,269.8 L1336.9,268.3 L1337.5,266.9 L1338.1,265.4 L1338.8,264.0 L1339.4,262.5 L1340.0,261.0 L1340.6,259.5 L1341.2,258.0 L1341.9,256.5 L1342.5,255.0 L1343.1,253.5 L1343.7,252.0"/>
<path stroke="#ff0000" d="M929.3,287.8 L930.6,287.4 L931.8,286.9 L933.1,286.5 L934.4,286.0 L935.7,285.5 L937.0,285.1 L938.3,284.6 L939.7,284.2 L941.1,283.7 L942.5,283.2 L943.9,282.8 L945.4,282.3 L946.9,281.9 L948.2,281.4 L949.6,281.0 L951.0,280.6 L952.4,280.2 L953.9,279.9 L955.3,279.5 L956.8,279.1 L958.3,278.8 L959.8,278.5 L961.3,278.2 L962.8,277.9 L964.3,277.7 L965.8,277.5 L967.4,277.3 L968.8,277.2 L970.3,277.1 L971.8,277.1 L973.3,277.1 L974.9,277.2 L976.5,277.3 L978.1,277.6 L979.7,277.8 L981.2,278.2 L982.7,278.6 L984.1,279.0 L985.5,279.6 L986.9,280.2 L988.2,280.8 L989.5,281.6 L990.7,282.3 L991.9,283.2 L993.1,284.1 L994.1,285.0 L995.1,286.0 L996.1,287.1 L997.0,288.2 L997.9,289.3 L998.7,290.5 L999.5,291.7 L1000.3,292.9 L1001.1,294.1 L1001.8,295.4 L1002.5,296.7 L1003.2,298.0 L1003.9,299.2 L1004.6,300.5 L1005.2,301.7 L1005.8,302.9 L1006.4,304.1 L1007.0,305.3 L1007.6,306.5 L1008.2,307.7 L1008.8,308.9 L1009.4,310.1 L1010.0,311.4 L1010.6,312.7 L1011.1,314.0 L1011.7,315.4 L1012.3,316.8 L1012.8,318.2 L1013.4,319.7 L1013.9,321.2 L1014.6,323.0 L1015.2,324.8 L1015.8,326.6 L1016.4,328.4 L1017.0,330.1 L1017.6,331.6 L1018.1,333.0 L1018.7,334.3 L1019.2,335.2 L1019.7,335.9 L1020.1,336.3 L1020.5,336.4 L1020.8,336.2 L1021.1,335.7 L1021.4,335.0 L1021.7,334.1 L1021.9,333.1 L1022.1,331.9 L1022.3,330.5 L1022.5,329.0 L1022.7,327.4 L1022.9,325.6 L1023.0,323.8 L1023.2,322.0 L1023.3,320.1 L1023.5,318.1 L1023.6,316.2 L1023.8,314.2 L1023.9,312.3 L1024.1,310.4 L1024.2,308.5 L1024.4,306.8 L1024.6,304.9 L1024.7,303.2 L1024.9,301.5 L1025.1,300.0 L1025.3,298.4 L1025.5,297.0 L1025.7,295.6 L1025.9,294.2 L1026.1,292.8 L1026.3,291.5 L1026.5,290.2 L1026.7,288.8 L1026.9,287.5 L1027.1,286.1 L1027.3,284.7 L1027.5,283.3 L1027.7,281.9 L1027.8,280.6 L1028.0,279.3 L1028.1,278.0 L1028.2,276.6 L1028.4,275.2 L1028.5,273.8 L1028.6,272.4 L1028.8,270.9 L1028.9,269.4 L1029.0,267.9 L1029.1,266.4 L1029.3,264.9 L1029.4,263.3 L1029.5,261.8 L1029.6,260.2 L1029.8,258.7 L1029.9,257.1 L1030.0,255.5 L1030.1,254.0 L1030.3,252.4 L1030.4,250.8 L1030.5,249.3 L1030.7,247.8 L1030.8,246.3 L1031.0,244.7 L1031.1,243.1 L1031.3,241.6 L1031.5,240.0 L1031.7,238.5 L1031.9,236.9 L1032.0,235.4 L1032.2,233.9 L1032.4,232.5 L1032.6,231.0 L1032.8,229.5 L1033.0,228.1 L1033.2,226.7 L1033.4,225.3 L1033.6,223.9 L1033.8,222.5 L1033.9,221.1 L1034.1,219.8 L1034.3,218.4 L1034.5,217.0 L1034.7,215.7 L1034.8,214.4 L1035.0,212.8 L1035.2,211.3 L1035.4,209.8 L1035.6,208.3 L1035.7,206.8 L1035.9,205.4 L1036.1,203.9 L1036.3,202.4 L1036.5,201.0 L1036.7,199.5 L1036.9,198.1 L1037.1,196.7 L1037.3,195.3 L1037.6,193.9 L1037.8,192.6 L1038.1,191.2 L1038.5,189.6 L1038.9,188.0 L1039.3,186.5 L1039.7,185.0 L1040.1,183.5 L1040.6,182.1 L1041.1,180.7 L1041.6,179.5 L1042.1,178.2 L1042.6,177.1 L1043.1,176.0 L1043.8,174.7 L1044.5,173.5 L1045.3,172.5 L1046.1,171.7 L1046.9,171.0 L1048.0,170.5 L1049.2,170.1 L1050.7,170.0 L1052.4,170.0 L1053.5,170.2 L1054.6,170.3 L1055.9,170.5 L1057.2,170.7 L1058.6,170.9 L1060.0,171.2 L1061.5,171.4 L1063.1,171.7 L1064.6,171.9 L1066.2,172.2 L1067.9,172.4 L1069.5,172.6 L1071.1,172.7 L1072.7,172.8 L1074.2,172.8 L1075.7,172.8 L1077.2,172.8 L1078.6,172.7 L1080.1,172.6 L1081.6,172.5 L1083.0,172.3 L1084.5,172.1 L1085.9,171.9 L1087.4,171.7 L1088.9,171.5 L1090.4,171.2 L1091.9,171.0 L1093.4,170.8 L1094.9,170.5 L1096.5,170.3 L1098.0,170.0 L1099.4,169.9 L1100.9,169.7 L1102.3,169.5 L1103.8,169.3 L1105.2,169.1 L1106.7,169.0 L1108.2,168.8 L1109.6,168.7 L1111.1,168.5 L1112.6,168.4 L1114.1,168.2 L1115.6,168.1 L1117.1,167.9 L1118.6,167.8 L1120.1,167.7 L1121.5,167.5 L1123.0,167.4 L1124.5,167.2 L1125.9,167.1 L1127.4,167.0 L1128.8,166.8 L1130.3,166.7 L1131.7,166.5 L1133.1,166.3 L1134.5,166.2 L1136.0,166.0 L1137.4,165.8 L1138.8,165.7 L1140.2,165.5 L1141.6,165.3 L1143.0,165.1 L1144.4,164.9 L1145.9,164.8 L1147.3,164.6 L1148.8,164.4 L1150.2,164.2 L1151.7,164.0 L1153.3,163.9 L1154.8,163.7 L1156.3,163.5 L1157.9,163.3 L1159.5,163.2 L1161.0,163.0 L1162.6,162.8 L1164.2,162.7 L1165.8,162.5 L1167.4,162.4 L1168.9,162.2 L1170.5,162.1 L1172.1,162.0 L1173.7,161.8 L1175.2,161.7 L1176.8,161.6 L1178.3,161.5 L1179.7,161.4 L1181.2,161.3 L1182.5,161.2 L1183.9,161.1 L1185.2,161.0 L1186.4,161.0 L1187.6,160.9 L1188.8,160.9 L1189.8,160.8 L1191.5,160.8 L1193.1,160.8 L1194.5,160.8 L1195.9,160.9 L1197.3,160.9 L1198.7,161.0 L1200.3,161.1 L1201.5,161.2 L1202.8,161.2 L1204.2,161.3 L1205.6,161.4 L1207.0,161.5 L1208.5,161.7 L1210.0,161.8 L1211.5,162.0 L1212.9,162.2 L1214.4,162.4 L1215.8,162.6 L1217.1,162.8 L1218.7,163.2 L1220.2,163.6 L1221.6,164.0 L1223.0,164.4 L1224.4,164.9 L1225.7,165.4 L1227.0,166.0 L1228.3,166.6 L1229.6,167.2 L1231.0,167.8 L1232.3,168.4 L1233.7,169.1 L1235.0,169.9 L1236.2,170.6 L1237.5,171.4 L1238.6,172.3 L1239.7,173.2 L1240.8,174.3 L1241.8,175.3 L1242.7,176.4 L1243.6,177.5 L1244.5,178.6 L1245.3,179.8 L1246.1,180.8 L1246.8,181.8 L1247.6,182.9 L1248.3,184.0 L1249.0,185.1 L1249.7,186.3 L1250.4,187.5 L1251.1,188.7 L1251.7,190.0 L1252.4,191.2 L1253.0,192.5 L1253.6,193.9 L1254.2,195.3 L1254.7,196.7 L1255.3,198.1 L1255.8,199.5 L1256.4,201.0 L1256.9,202.4 L1257.3,203.8 L1257.8,205.1 L1258.2,206.4 L1258.6,207.8 L1259.0,209.1 L1259.4,210.4 L1259.8,211.8 L1260.2,213.1 L1260.5,214.4 L1260.9,215.8 L1261.3,217.1 L1261.6,218.5 L1262.0,219.9 L1262.3,221.4 L1262.7,222.8 L1263.0,224.2 L1263.3,225.5 L1263.7,226.9 L1264.0,228.2 L1264.3,229.5 L1264.6,230.8 L1264.8,232.1 L1265.1,233.4 L1265.4,234.7 L1265.7,236.0 L1266.0,237.3 L1266.3,238.7 L1266.6,240.1 L1266.9,241.6 L1267.3,243.3 L1267.6,244.4 L1267.8,245.6 L1268.1,246.8 L1268.4,248.1 L1268.7,249.5 L1269.0,250.8 L1269.3,252.2 L1269.7,253.7 L1270.0,255.1 L1270.3,256.6 L1270.7,258.1 L1271.0,259.6 L1271.3,261.2 L1271.7,262.7 L1272.0,264.3 L1272.3,265.8 L1272.7,267.4 L1273.0,269.0 L1273.3,270.5 L1273.6,272.1 L1273.9,273.6 L1274.2,275.3 L1274.5,276.9 L1274.8,278.5 L1275.1,280.1 L1275.3,281.7 L1275.6,283.3 L1275.8,284.8 L1276.1,286.3 L1276.3,287.8 L1276.6,289.2 L1276.8,290.7 L1277.0,292.1 L1277.2,293.4 L1277.4,294.8 L1277.7,296.1 L1277.9,297.3 L1278.1,298.6 L1278.3,299.8 L1278.7,301.9 L1279.1,303.8 L1279.5,305.3 L1280.0,306.4 L1280.5,306.8 L1281.4,306.0 L1282.1,304.3 L1282.5,303.2 L1282.8,302.0 L1283.1,300.7 L1283.3,299.3 L1283.5,297.8 L1283.8,296.0 L1283.9,295.0 L1284.1,293.9 L1284.3,292.8 L1284.5,291.6 L1284.7,290.3 L1284.9,289.0 L1285.1,287.7 L1285.3,286.3 L1285.5,284.9 L1285.7,283.4 L1286.0,281.9 L1286.2,280.4 L1286.4,278.8 L1286.7,277.2 L1286.9,275.6 L1287.2,274.0 L1287.4,272.4 L1287.7,270.8 L1288.0,269.1 L1288.2,267.5 L1288.5,265.8 L1288.7,264.2 L1289.0,262.6 L1289.2,261.1 L1289.5,259.5 L1289.7,258.0 L1290.0,256.4 L1290.2,254.9 L1290.4,253.4 L1290.7,251.9 L1290.9,250.4 L1291.1,249.0 L1291.4,247.5 L1291.6,246.0 L1291.8,244.6 L1292.0,243.2 L1292.3,241.8 L1292.5,240.4 L1292.7,239.0 L1292.9,237.6 L1293.1,236.3 L1293.3,234.9 L1293.5,233.6 L1293.7,232.3 L1293.9,231.1 L1294.1,229.8 L1294.4,228.3 L1294.6,226.8 L1294.8,225.3 L1295.0,223.8 L1295.3,222.4 L1295.5,221.0 L1295.7,219.6 L1295.9,218.2 L1296.1,216.9 L1296.3,215.5 L1296.5,214.2 L1296.7,212.9 L1296.9,211.5 L1297.1,210.2 L1297.3,208.9 L1297.5,207.5 L1297.8,206.0 L1298.0,204.6 L1298.2,203.2 L1298.5,201.8 L1298.7,200.3 L1299.0,198.9 L1299.3,197.5 L1299.6,196.1 L1299.9,194.8 L1300.2,193.4 L1300.6,192.1 L1300.9,190.7 L1301.4,189.2 L1301.9,187.7 L1302.4,186.3 L1302.9,184.8 L1303.5,183.4 L1304.1,182.1 L1304.7,180.8 L1305.2,179.6 L1305.8,178.4 L1306.4,177.3 L1307.3,175.8 L1308.2,174.4 L1309.0,173.2 L1310.0,172.2 L1310.9,171.3 L1312.0,170.6 L1313.2,170.1 L1314.5,169.8 L1315.9,169.8 L1317.1,170.0 L1318.4,170.2 L1319.7,170.7 L1321.0,171.2 L1322.2,171.9 L1323.4,172.7 L1324.5,173.5 L1325.5,174.5 L1326.4,175.6 L1327.3,176.8 L1328.0,178.0 L1328.7,179.2 L1329.4,180.5 L1330.1,181.8 L1330.8,182.9 L1331.4,184.1 L1332.1,185.2 L1332.8,186.4 L1333.5,187.5 L1334.2,188.7 L1334.8,189.8 L1335.5,191.0 L1336.1,192.3 L1336.8,193.5 L1337.4,194.8 L1338.1,196.2 L1338.7,197.5 L1339.3,198.8 L1339.9,200.2 L1340.4,201.5 L1341.0,202.8 L1341.5,204.1 L1342.1,205.4 L1342.6,206.8 L1343.2,208.2 L1343.7,209.5 L1344.2,210.9"/>
<path stroke="#00c000" d="M929.3,319.2 L930.7,318.9 L932.1,318.7 L933.6,318.4 L935.0,318.1 L936.4,317.9 L937.8,317.6 L939.3,317.3 L940.7,317.0 L942.2,316.8 L943.6,316.5 L945.0,316.2 L946.5,315.9 L948.0,315.6 L949.4,315.3 L950.9,315.0 L952.4,314.7 L953.8,314.4 L955.2,314.1 L956.7,313.8 L958.1,313.6 L959.6,313.3 L961.0,313.0 L962.4,312.8 L963.9,312.5 L965.3,312.3 L966.8,312.2 L968.2,312.0 L969.6,311.9 L971.0,311.8 L972.4,311.8 L973.8,311.8 L975.2,311.9 L976.6,312.0 L978.1,312.2 L979.5,312.4 L981.0,312.7 L982.4,313.1 L983.8,313.5 L985.2,313.9 L986.5,314.4 L987.9,315.0 L989.2,315.6 L990.5,316.2 L991.7,316.8 L992.9,317.5 L994.1,318.2 L995.3,319.0 L996.4,319.7 L997.5,320.5 L998.6,321.3 L999.7,322.1 L1000.7,323.0 L1001.8,323.9 L1002.8,324.7 L1003.8,325.7 L1004.8,326.6 L1005.8,327.6 L1006.9,328.6 L1007.9,329.6 L1009.0,330.7 L1010.2,331.9 L1011.5,333.1 L1012.8,334.3 L1014.0,335.4 L1015.2,336.5 L1016.4,337.3 L1017.6,338.0 L1018.6,338.5 L1019.6,338.7 L1020.5,338.6 L1021.2,338.3 L1021.9,337.7 L1022.4,337.0 L1022.9,336.0 L1023.4,334.8 L1023.8,333.5 L1024.1,332.0 L1024.4,330.4 L1024.7,328.7 L1024.9,326.9 L1025.1,325.1 L1025.3,323.2 L1025.5,321.2 L1025.6,320.0 L1025.7,318.7 L1025.8,317.5 L1025.9,316.2 L1026.0,315.0 L1026.0,313.7 L1026.1,312.4 L1026.2,311.1 L1026.3,309.8 L1026.4,308.5 L1026.4,307.1 L1026.5,305.8 L1026.6,304.4 L1026.6,303.0 L1026.7,301.6 L1026.8,300.2 L1026.8,298.8 L1026.9,297.4 L1026.9,295.9 L1027.0,294.4 L1027.0,292.9 L1027.1,291.4 L1027.1,289.9 L1027.2,288.3 L1027.2,286.7 L1027.3,285.1 L1027.3,283.5 L1027.4,281.9 L1027.4,280.2 L1027.5,278.5 L1027.5,276.8 L1027.5,275.1 L1027.6,273.3 L1027.6,271.5 L1027.6,269.7 L1027.7,267.9 L1027.7,266.7 L1027.7,265.5 L1027.7,264.3 L1027.8,263.0 L1027.8,261.8 L1027.8,260.5 L1027.8,259.3 L1027.9,258.0 L1027.9,256.7 L1027.9,255.4 L1027.9,254.1 L1028.0,252.8 L1028.0,251.4 L1028.0,250.1 L1028.0,248.8 L1028.0,247.4 L1028.1,246.0 L1028.1,244.7 L1028.1,243.3 L1028.1,241.9 L1028.1,240.5 L1028.2,239.1 L1028.2,237.7 L1028.2,236.3 L1028.2,234.8 L1028.3,233.4 L1028.3,232.0 L1028.3,230.5 L1028.3,229.1 L1028.3,227.6 L1028.4,226.1 L1028.4,224.7 L1028.4,223.2 L1028.4,221.7 L1028.4,220.2 L1028.5,218.7 L1028.5,217.2 L1028.5,215.7 L1028.5,214.2 L1028.5,212.7 L1028.6,211.1 L1028.6,209.6 L1028.6,208.1 L1028.6,206.5 L1028.6,205.0 L1028.6,203.4 L1028.7,201.9 L1028.7,200.3 L1028.7,198.8 L1028.7,197.2 L1028.7,195.6 L1028.8,194.1 L1028.8,192.5 L1028.8,190.9 L1028.8,189.4 L1028.8,187.8 L1028.8,186.2 L1028.9,184.6 L1028.9,183.0 L1028.9,181.4 L1028.9,179.8 L1028.9,178.2 L1028.9,176.7 L1029.0,175.1 L1029.0,173.5 L1029.0,171.9 L1029.0,170.3 L1029.0,168.7 L1029.1,167.1 L1029.1,165.5 L1029.1,163.9 L1029.1,162.3 L1029.1,160.7 L1029.1,159.1 L1029.2,157.5 L1029.2,155.9 L1029.2,154.3 L1029.2,152.7 L1029.2,151.1 L1029.2,149.5 L1029.2,147.9 L1029.3,146.3 L1029.3,144.7 L1029.3,143.1 L1029.3,141.5 L1029.3,139.9 L1029.3,138.2 L1029.4,136.5 L1029.4,134.7 L1029.4,133.0 L1029.4,131.3 L1029.4,129.6 L1029.4,127.9 L1029.5,126.2 L1029.5,124.5 L1029.5,122.8 L1029.5,121.1 L1029.5,119.4 L1029.5,117.7 L1029.6,116.0 L1029.6,114.3 L1029.6,112.7 L1029.6,111.0 L1029.6,109.3 L1029.6,107.7 L1029.7,106.0 L1029.7,104.4 L1029.7,102.8 L1029.7,101.1 L1029.7,99.5 L1029.7,97.9 L1029.8,96.3 L1029.8,94.7 L1029.8,93.1 L1029.8,91.5 L1029.8,89.9 L1029.8,88.4 L1029.8,86.8 L1029.9,85.2 L1029.9,83.7 L1029.9,82.2 L1029.9,80.6 L1029.9,79.1 L1029.9,77.6 L1030.0,76.1 L1030.0,74.6 L1030.0,73.1 L1030.0,71.6 L1030.0,70.2 L1030.0,68.7 L1030.0,67.3 L1030.1,65.9 L1030.1,64.4 L1030.1,63.0 L1030.1,61.6 L1030.1,60.2 L1030.1,58.9 L1030.1,57.5 L1030.2,56.1 L1030.2,54.8 L1030.2,53.5 L1030.2,52.1 L1030.2,50.8 L1030.2,49.5 L1030.2,48.3 L1030.3,47.0 L1030.3,45.7 L1030.3,44.5 L1030.3,43.3 L1030.3,42.1 L1030.3,40.9 L1030.3,39.7 L1030.4,38.5 L1030.4,37.3 L1030.4,36.2 L1030.4,35.1 L1030.4,34.0 L1030.4,32.8 L1030.5,31.0 L1030.5,29.2 L1030.5,27.5 L1030.5,25.7 L1030.5,24.1 L1030.6,22.4 L1030.6,20.8 L1030.6,19.2 L1030.6,17.7 L1030.7,16.2 L1030.7,14.7 L1030.7,13.2 L1030.7,11.7 L1030.7,10.3 L1030.8,8.9 L1030.8,7.5 L1030.8,6.1 L1030.8,4.8 L1030.8,3.4 L1030.9,2.1 L1030.9,0.8 L1030.9,-0.6 L1030.9,-1.9 L1031.0,-3.2 L1031.0,-4.5"/>
<path stroke="#00c000" d="M1054.1,-4.5 L1054.1,-2.9 L1054.1,-1.3 L1054.1,0.4 L1054.2,2.0 L1054.2,3.6 L1054.2,5.2 L1054.2,6.8 L1054.3,8.4 L1054.3,10.0 L1054.3,11.6 L1054.4,13.2 L1054.4,14.8 L1054.5,16.4 L1054.5,17.9 L1054.5,19.5 L1054.6,21.0 L1054.6,22.5 L1054.7,24.0 L1054.7,25.5 L1054.8,27.0 L1054.9,28.5 L1054.9,29.9 L1055.0,31.4 L1055.1,32.8 L1055.2,34.2 L1055.3,35.6 L1055.3,36.9 L1055.4,38.3 L1055.5,39.6 L1055.6,40.9 L1055.8,42.2 L1055.9,43.4 L1056.0,44.7 L1056.1,45.9 L1056.3,47.0 L1056.5,48.7 L1056.7,50.2 L1056.9,51.8 L1057.1,53.2 L1057.4,54.7 L1057.6,56.1 L1057.9,57.5 L1058.2,58.9 L1058.4,60.2 L1058.7,61.5 L1059.0,62.8 L1059.3,64.2 L1059.5,65.5 L1059.8,66.8 L1060.1,68.1 L1060.4,69.4 L1060.7,70.7 L1060.9,72.0 L1061.2,73.4 L1061.5,74.8 L1061.7,76.1 L1062.0,77.5 L1062.3,78.9 L1062.6,80.3 L1062.8,81.7 L1063.1,83.1 L1063.4,84.5 L1063.7,85.9 L1064.0,87.4 L1064.3,88.8 L1064.6,90.2 L1064.9,91.6 L1065.3,93.0 L1065.6,94.4 L1066.0,95.8 L1066.4,97.3 L1066.8,98.7 L1067.2,100.2 L1067.6,101.6 L1068.1,103.0 L1068.6,104.4 L1069.0,105.8 L1069.5,107.1 L1070.0,108.5 L1070.5,109.8 L1071.1,111.1 L1071.6,112.3 L1072.2,113.6 L1072.7,114.8 L1073.5,116.2 L1074.2,117.6 L1075.0,119.0 L1075.8,120.3 L1076.6,121.6 L1077.4,122.7 L1078.3,123.8 L1079.2,124.9 L1080.1,125.8 L1081.0,126.7 L1082.2,127.7 L1083.5,128.6 L1084.8,129.3 L1086.1,130.0 L1087.4,130.5 L1088.7,131.0 L1089.9,131.3 L1091.1,131.6 L1092.3,131.8 L1093.6,131.9 L1094.9,132.0 L1096.4,132.0 L1097.6,131.9 L1098.8,131.7 L1100.2,131.5 L1101.5,131.3 L1103.0,131.0 L1104.4,130.7 L1105.9,130.3 L1107.3,129.9 L1108.8,129.4 L1110.3,129.0 L1111.8,128.5 L1113.1,128.0 L1114.5,127.5 L1115.8,126.9 L1117.1,126.4 L1118.4,125.8 L1119.7,125.2 L1121.0,124.5 L1122.3,123.9 L1123.6,123.1 L1124.9,122.4 L1126.2,121.6 L1127.5,120.8 L1128.8,120.0 L1129.9,119.3 L1131.0,118.5 L1132.1,117.7 L1133.3,116.9 L1134.4,116.1 L1135.5,115.3 L1136.7,114.5 L1137.8,113.6 L1138.9,112.7 L1140.1,111.8 L1141.2,110.9 L1142.4,110.0 L1143.5,109.1 L1144.6,108.2 L1145.8,107.3 L1146.9,106.4 L1148.0,105.5 L1149.1,104.6 L1150.3,103.6 L1151.4,102.7 L1152.5,101.8 L1153.6,100.9 L1154.7,100.0 L1155.8,99.1 L1156.9,98.2 L1158.1,97.3 L1159.2,96.4 L1160.3,95.6 L1161.4,94.7 L1162.5,93.8 L1163.7,92.9 L1164.8,92.1 L1166.0,91.2 L1167.1,90.3 L1168.3,89.5 L1169.5,88.6 L1170.8,87.7 L1172.0,86.8 L1173.3,85.9 L1174.6,85.0 L1176.0,84.2 L1177.3,83.3 L1178.6,82.5 L1179.9,81.7 L1181.2,80.9 L1182.5,80.2 L1183.7,79.5 L1185.0,78.8 L1186.2,78.2 L1187.4,77.7 L1188.6,77.1 L1189.8,76.7 L1191.3,76.2 L1192.7,75.7 L1194.1,75.4 L1195.4,75.1 L1196.8,74.9 L1198.1,74.7 L1199.4,74.7 L1200.6,74.6 L1201.9,74.7 L1203.3,74.8 L1204.7,75.0 L1206.1,75.2 L1207.4,75.6 L1208.8,76.0 L1210.2,76.6 L1211.5,77.3 L1212.9,78.2 L1214.0,79.0 L1215.0,79.8 L1216.1,80.8 L1217.1,81.8 L1218.2,82.9 L1219.2,84.1 L1220.2,85.2 L1221.1,86.5 L1222.1,87.7 L1223.0,88.9 L1223.9,90.2 L1224.7,91.4 L1225.5,92.6 L1226.4,94.0 L1227.2,95.3 L1228.0,96.5 L1228.8,97.8 L1229.5,99.1 L1230.1,100.3 L1230.8,101.5 L1231.4,102.8 L1232.1,104.0 L1232.7,105.3 L1233.3,106.5 L1233.8,107.8 L1234.4,109.0 L1234.9,110.3 L1235.5,111.6 L1236.0,112.9 L1236.6,114.2 L1237.1,115.6 L1237.7,116.9 L1238.2,118.3 L1238.7,119.8 L1239.2,120.9 L1239.6,122.1 L1240.0,123.3 L1240.4,124.6 L1240.9,125.8 L1241.3,127.1 L1241.7,128.4 L1242.1,129.7 L1242.5,131.1 L1242.9,132.4 L1243.3,133.9 L1243.7,135.3 L1244.1,136.8 L1244.5,138.3 L1244.9,139.8 L1245.3,141.4 L1245.7,142.8 L1246.0,144.2 L1246.3,145.6 L1246.7,147.1 L1247.0,148.5 L1247.3,150.0 L1247.6,151.5 L1248.0,153.0 L1248.3,154.5 L1248.6,156.0 L1248.9,157.5 L1249.3,159.0 L1249.6,160.5 L1249.9,161.9 L1250.2,163.4 L1250.5,164.9 L1250.8,166.3 L1251.1,167.7 L1251.4,169.1 L1251.6,170.4 L1251.9,171.7 L1252.2,173.0 L1252.5,174.3 L1252.8,175.7 L1253.1,177.2 L1253.4,178.5 L1253.7,179.9 L1254.0,181.2 L1254.3,182.5 L1254.6,183.9 L1254.9,185.2 L1255.2,186.6 L1255.5,188.0 L1255.8,189.4 L1256.1,190.9 L1256.4,192.5 L1256.7,194.1 L1257.1,195.9 L1257.4,197.7 L1257.6,198.8 L1257.8,199.9 L1258.0,201.1 L1258.2,202.3 L1258.4,203.5 L1258.7,204.8 L1258.9,206.1 L1259.1,207.4 L1259.3,208.8 L1259.5,210.1 L1259.8,211.5 L1260.0,212.9 L1260.2,214.4 L1260.4,215.8 L1260.7,217.3 L1260.9,218.8 L1261.1,220.3 L1261.4,221.8 L1261.6,223.4 L1261.9,224.9 L1262.1,226.5 L1262.3,228.1 L1262.6,229.6 L1262.8,231.2 L1263.1,232.8 L1263.3,234.4 L1263.5,236.0 L1263.8,237.6 L1264.0,239.2 L1264.3,240.9 L1264.5,242.5 L1264.8,244.1 L1265.0,245.7 L1265.2,247.3 L1265.5,248.9 L1265.7,250.4 L1265.9,252.0 L1266.2,253.6 L1266.4,255.1 L1266.6,256.7 L1266.9,258.2 L1267.1,259.7 L1267.3,261.2 L1267.5,262.7 L1267.8,264.1 L1268.0,265.6 L1268.2,267.0 L1268.4,268.4 L1268.7,270.2 L1269.0,272.0 L1269.2,273.7 L1269.5,275.4 L1269.7,277.0 L1270.0,278.7 L1270.3,280.3 L1270.5,281.8 L1270.8,283.3 L1271.0,284.8 L1271.3,286.3 L1271.5,287.7 L1271.8,289.2 L1272.0,290.6 L1272.3,291.9 L1272.5,293.3 L1272.8,294.6 L1273.0,295.9 L1273.3,297.2 L1273.6,298.5 L1273.8,299.7 L1274.1,301.0 L1274.4,302.2 L1274.7,303.4 L1275.0,304.6 L1275.3,305.8 L1275.5,307.0 L1276.1,309.0 L1276.6,311.0 L1277.2,312.9 L1277.8,314.6 L1278.3,316.1 L1278.9,317.4 L1279.4,318.3 L1280.0,319.0 L1280.5,319.2 L1281.0,319.0 L1281.5,318.5 L1281.9,317.6 L1282.4,316.4 L1282.8,314.9 L1283.2,313.2 L1283.6,311.3 L1284.0,309.2 L1284.3,307.0 L1284.5,305.8 L1284.7,304.5 L1284.9,303.2 L1285.1,301.9 L1285.3,300.6 L1285.5,299.3 L1285.7,297.9 L1285.9,296.5 L1286.1,295.1 L1286.3,293.7 L1286.4,292.2 L1286.6,290.8 L1286.8,289.3 L1287.0,287.8 L1287.1,286.3 L1287.3,284.8 L1287.5,283.2 L1287.6,281.7 L1287.8,280.1 L1288.0,278.6 L1288.1,277.0 L1288.3,275.4 L1288.4,273.9 L1288.6,272.3 L1288.7,270.7 L1288.9,269.1 L1289.0,267.5 L1289.2,265.9 L1289.3,264.3 L1289.4,262.7 L1289.6,261.1 L1289.7,259.5 L1289.8,257.9 L1290.0,256.5 L1290.1,255.0 L1290.2,253.6 L1290.3,252.1 L1290.4,250.7 L1290.5,249.3 L1290.6,247.8 L1290.7,246.4 L1290.8,244.9 L1290.9,243.5 L1291.0,242.0 L1291.1,240.6 L1291.2,239.2 L1291.3,237.7 L1291.4,236.3 L1291.5,234.8 L1291.6,233.4 L1291.7,231.9 L1291.8,230.4 L1291.9,229.0 L1292.0,227.5 L1292.1,226.0 L1292.2,224.5 L1292.2,223.1 L1292.3,221.6 L1292.4,220.1 L1292.5,218.6 L1292.6,217.0 L1292.7,215.5 L1292.8,214.0 L1292.9,212.4 L1293.0,210.9 L1293.1,209.3 L1293.2,207.7 L1293.3,206.1 L1293.4,204.5 L1293.5,202.9 L1293.6,201.3 L1293.7,199.7 L1293.8,198.3 L1293.9,196.9 L1294.0,195.5 L1294.0,194.0 L1294.1,192.6 L1294.2,191.2 L1294.3,189.7 L1294.4,188.3 L1294.5,186.8 L1294.6,185.4 L1294.7,183.9 L1294.8,182.4 L1294.9,180.9 L1295.0,179.4 L1295.1,178.0 L1295.2,176.5 L1295.3,175.0 L1295.4,173.5 L1295.5,171.9 L1295.6,170.4 L1295.7,168.9 L1295.8,167.4 L1295.9,165.9 L1296.0,164.4 L1296.1,162.8 L1296.2,161.3 L1296.3,159.8 L1296.4,158.3 L1296.5,156.8 L1296.7,155.2 L1296.8,153.7 L1296.9,152.2 L1297.0,150.7 L1297.1,149.2 L1297.2,147.7 L1297.3,146.1 L1297.4,144.6 L1297.5,143.1 L1297.6,141.6 L1297.7,140.1 L1297.8,138.6 L1297.9,137.1 L1298.0,135.7 L1298.1,134.2 L1298.2,132.7 L1298.4,131.2 L1298.5,129.8 L1298.6,128.3 L1298.7,126.9 L1298.8,125.4 L1298.9,124.0 L1299.0,122.6 L1299.1,121.2 L1299.2,119.8 L1299.3,118.0 L1299.4,116.2 L1299.6,114.5 L1299.7,112.8 L1299.8,111.1 L1299.9,109.4 L1300.1,107.7 L1300.2,106.0 L1300.3,104.4 L1300.4,102.8 L1300.6,101.2 L1300.7,99.6 L1300.8,98.0 L1300.9,96.4 L1301.1,94.9 L1301.2,93.4 L1301.3,91.9 L1301.4,90.4 L1301.6,88.9 L1301.7,87.5 L1301.8,86.0 L1301.9,84.6 L1302.1,83.2 L1302.2,81.9 L1302.3,80.5 L1302.5,79.2 L1302.6,77.8 L1302.7,76.5 L1302.9,75.3 L1303.0,74.0 L1303.1,72.8 L1303.3,71.6 L1303.4,70.4 L1303.6,69.2 L1303.8,67.6 L1304.0,66.1 L1304.2,64.6 L1304.4,63.1 L1304.6,61.6 L1304.8,60.2 L1305.0,58.8 L1305.2,57.4 L1305.4,56.1 L1305.6,54.7 L1305.8,53.4 L1306.0,52.0 L1306.2,50.7 L1306.4,49.3 L1306.6,48.0 L1306.7,46.7 L1306.9,45.3 L1307.0,43.9 L1307.2,42.5 L1307.3,41.1 L1307.4,39.6 L1307.5,38.2 L1307.6,36.8 L1307.7,35.3 L1307.8,33.8 L1307.9,32.4 L1308.0,30.9 L1308.1,29.4 L1308.2,27.9 L1308.2,26.4 L1308.3,24.9 L1308.4,23.4 L1308.5,21.9 L1308.5,20.4"/>
<path stroke="#00c000" d="M1316.2,20.4 L1316.3,21.9 L1316.3,23.4 L1316.3,24.9 L1316.4,26.5 L1316.4,28.0 L1316.5,29.5 L1316.5,31.0 L1316.6,32.4 L1316.7,33.9 L1316.8,35.4 L1316.9,36.9 L1317.0,38.3 L1317.1,39.7 L1317.3,41.1 L1317.5,42.5 L1317.7,43.9 L1317.9,45.3 L1318.1,46.6 L1318.4,48.0 L1318.6,49.3 L1318.9,50.6 L1319.2,51.9 L1319.5,53.2 L1319.9,54.5 L1320.2,55.9 L1320.5,57.2 L1320.9,58.6 L1321.2,60.0 L1321.6,61.4 L1322.0,62.9 L1322.3,64.4 L1322.7,66.0 L1323.0,67.6 L1323.4,69.2 L1323.6,70.4 L1323.8,71.7 L1324.1,73.0 L1324.3,74.3 L1324.5,75.6 L1324.8,77.0 L1325.0,78.3 L1325.2,79.7 L1325.4,81.2 L1325.6,82.6 L1325.8,84.1 L1326.0,85.5 L1326.2,87.0 L1326.4,88.5 L1326.6,90.1 L1326.8,91.6 L1327.0,93.1 L1327.2,94.7 L1327.4,96.2 L1327.6,97.8 L1327.8,99.4 L1327.9,100.9 L1328.1,102.5 L1328.3,104.1 L1328.5,105.7 L1328.6,107.3 L1328.8,108.8 L1329.0,110.4 L1329.1,112.0 L1329.3,113.6 L1329.5,115.1 L1329.6,116.7 L1329.8,118.2 L1330.0,119.8 L1330.1,121.4 L1330.3,122.9 L1330.5,124.5 L1330.6,126.1 L1330.8,127.6 L1331.0,129.2 L1331.1,130.7 L1331.3,132.2 L1331.4,133.7 L1331.6,135.2 L1331.8,136.7 L1331.9,138.2 L1332.1,139.7 L1332.3,141.1 L1332.4,142.6 L1332.6,144.0 L1332.7,145.5 L1332.9,146.9 L1333.1,148.3 L1333.2,149.7 L1333.4,151.1 L1333.6,152.5 L1333.7,153.9 L1333.9,155.2 L1334.1,156.6 L1334.2,158.0 L1334.4,159.3 L1334.6,160.7 L1334.7,162.0 L1334.9,163.3 L1335.1,164.8 L1335.3,166.3 L1335.5,167.7 L1335.7,169.2 L1335.9,170.6 L1336.1,172.1 L1336.3,173.5 L1336.5,174.9 L1336.7,176.3 L1336.9,177.8 L1337.1,179.2 L1337.3,180.6 L1337.5,182.0 L1337.7,183.4 L1337.9,184.9 L1338.1,186.3 L1338.4,187.7 L1338.6,189.1 L1338.8,190.5 L1339.0,192.0 L1339.2,193.4 L1339.4,194.8 L1339.6,196.3 L1339.9,197.7 L1340.1,199.1 L1340.3,200.6 L1340.5,202.0 L1340.7,203.5 L1340.9,204.9 L1341.2,206.4 L1341.4,207.8 L1341.6,209.3 L1341.8,210.8 L1342.0,212.2 L1342.2,213.7 L1342.5,215.2 L1342.7,216.7 L1342.9,218.1 L1343.1,219.6 L1343.4,221.1 L1343.6,222.6 L1343.8,224.1 L1344.0,225.6 L1344.2,227.1 L1344.5,228.6 L1344.7,230.1 L1344.9,231.6 L1345.1,233.0 L1345.3,234.5"/>
</g>
<line x1="930.4" y1="70.2" x2="1342.6" y2="70.2" stroke="#000" stroke-width="2.6" stroke-dasharray="4.8 4.5"/>
<line x1="930.4" y1="120.0" x2="1342.6" y2="120.0" stroke="#000" stroke-width="2.6" stroke-dasharray="4.8 4.5"/>
<line x1="930.4" y1="164.8" x2="1342.6" y2="164.8" stroke="#000" stroke-width="2.6" stroke-dasharray="6.3 3.02 1.6 3.02"/>
<line x1="930.4" y1="284.3" x2="1342.6" y2="284.3" stroke="#000" stroke-width="2.6" stroke-dasharray="6.3 3.02 1.6 3.02"/>
<line x1="1128.5" y1="344.1" x2="1128.5" y2="45.3" stroke="#000" stroke-width="2.6" stroke-dasharray="4.8 4.5"/>
<line x1="1238.6" y1="344.1" x2="1238.6" y2="45.3" stroke="#000" stroke-width="2.6" stroke-dasharray="4.8 4.5"/>
<path d="M930.4,344.1v-9.6M930.4,45.3v9.6M985.4,344.1v-9.6M985.4,45.3v9.6M1040.3,344.1v-9.6M1040.3,45.3v9.6M1095.3,344.1v-9.6M1095.3,45.3v9.6M1150.2,344.1v-9.6M1150.2,45.3v9.6M1205.2,344.1v-9.6M1205.2,45.3v9.6M1260.2,344.1v-9.6M1260.2,45.3v9.6M1315.1,344.1v-9.6M1315.1,45.3v9.6M930.4,344.1h9.6M1342.6,344.1h-9.6M930.4,294.3h9.6M1342.6,294.3h-9.6M930.4,244.5h9.6M1342.6,244.5h-9.6M930.4,194.7h9.6M1342.6,194.7h-9.6M930.4,144.9h9.6M1342.6,144.9h-9.6M930.4,95.1h9.6M1342.6,95.1h-9.6M930.4,45.3h9.6M1342.6,45.3h-9.6" stroke="#000" stroke-width="2" fill="none"/>
<rect x="930.4" y="45.3" width="412.2" height="298.8" fill="none" stroke="#000" stroke-width="2.5"/>
<text x="895.6" y="356.7" font-family="'Liberation Serif', serif" font-size="37" text-anchor="start">0</text>
<text x="868.9" y="306.9" font-family="'Liberation Serif', serif" font-size="37" text-anchor="start">0.2</text>
<text x="866.9" y="257.1" font-family="'Liberation Serif', serif" font-size="37" text-anchor="start">0.4</text>
<text x="867.8" y="207.3" font-family="'Liberation Serif', serif" font-size="37" text-anchor="start">0.6</text>
<text x="868.2" y="157.5" font-family="'Liberation Serif', serif" font-size="37" text-anchor="start">0.8</text>
<text x="870.4" y="107.7" font-family="'Liberation Serif', serif" font-size="37" text-anchor="start">1.0</text>
<text x="871.4" y="57.9" font-family="'Liberation Serif', serif" font-size="37" text-anchor="start">1.2</text>
<text x="931.0" y="386.3" font-family="'Liberation Serif', serif" font-size="37" text-anchor="middle">3</text>
<text x="986.0" y="386.3" font-family="'Liberation Serif', serif" font-size="37" text-anchor="middle">4</text>
<text x="1040.9" y="386.3" font-family="'Liberation Serif', serif" font-size="37" text-anchor="middle">5</text>
<text x="1095.9" y="386.3" font-family="'Liberation Serif', serif" font-size="37" text-anchor="middle">6</text>
<text x="1150.8" y="386.3" font-family="'Liberation Serif', serif" font-size="37" text-anchor="middle">7</text>
<text x="1205.8" y="386.3" font-family="'Liberation Serif', serif" font-size="37" text-anchor="middle">8</text>
<text x="1260.8" y="386.3" font-family="'Liberation Serif', serif" font-size="37" text-anchor="middle">9</text>
<text x="1318.8" y="386.3" font-family="'Liberation Serif', serif" font-size="37" text-anchor="middle">10</text>
<text x="1136.5" y="423.6" font-family="'Liberation Serif', serif" font-size="37" text-anchor="middle">Frequency / GHz</text>
<g clip-path="url(#clipc)" fill="none" stroke-width="3.2" stroke-linejoin="round" stroke-linecap="round">
<path stroke="#0000ff" d="M118.5,572.1 L119.9,572.5 L121.2,572.9 L122.6,573.2 L124.0,573.6 L125.4,574.0 L126.8,574.4 L128.2,574.8 L129.6,575.1 L131.0,575.5 L132.4,575.9 L133.8,576.2 L135.3,576.6 L136.7,576.9 L138.2,577.2 L139.6,577.6 L141.1,577.9 L142.6,578.2 L144.1,578.5 L145.7,578.8 L147.2,579.0 L148.8,579.3 L150.4,579.6 L151.9,579.8 L153.4,580.0 L155.0,580.2 L156.5,580.4 L158.1,580.6 L159.7,580.8 L161.2,581.0 L162.8,581.2 L164.4,581.4 L165.9,581.5 L167.5,581.7 L169.0,581.9 L170.5,582.1 L172.0,582.2 L173.4,582.4 L174.9,582.6 L176.3,582.8 L177.6,583.0 L179.0,583.2 L180.3,583.4 L181.5,583.6 L182.7,583.8 L183.9,584.1 L185.0,584.3 L186.6,584.7 L188.2,585.2 L189.6,585.7 L190.9,586.3 L192.0,586.9 L193.1,587.6 L194.2,588.4 L195.1,589.3 L196.0,590.3 L196.7,591.2 L197.4,592.3 L198.0,593.3 L198.6,594.5 L199.2,595.8 L199.8,597.1 L200.3,598.4 L200.8,599.8 L201.3,601.3 L201.7,602.8 L202.2,604.4 L202.6,606.0 L202.9,607.2 L203.2,608.5 L203.5,609.7 L203.7,611.0 L204.0,612.3 L204.3,613.7 L204.6,615.0 L204.8,616.4 L205.1,617.8 L205.3,619.2 L205.6,620.6 L205.8,622.1 L206.0,623.5 L206.3,625.0 L206.5,626.5 L206.7,628.1 L207.0,629.6 L207.2,631.2 L207.4,632.8 L207.6,634.4 L207.8,636.0 L208.1,637.6 L208.2,639.0 L208.4,640.4 L208.6,641.8 L208.8,643.2 L209.0,644.6 L209.1,646.0 L209.3,647.4 L209.5,648.9 L209.7,650.3 L209.9,651.8 L210.0,653.3 L210.2,654.7 L210.4,656.2 L210.5,657.7 L210.7,659.2 L210.9,660.7 L211.1,662.2 L211.2,663.7 L211.4,665.2 L211.6,666.7 L211.7,668.3 L211.9,669.8 L212.0,671.3 L212.2,672.9 L212.4,674.4 L212.5,675.9 L212.7,677.5 L212.8,679.0 L213.0,680.6 L213.1,682.1 L213.3,683.6 L213.4,685.2 L213.6,686.7 L213.7,688.2 L213.8,689.8 L214.0,691.3 L214.1,692.9 L214.2,694.4 L214.4,695.9 L214.5,697.4 L214.6,699.0 L214.8,700.5 L214.9,702.0 L215.0,703.5 L215.1,705.0 L215.2,706.5 L215.4,708.1 L215.5,709.6 L215.6,711.1 L215.7,712.6 L215.8,714.1 L215.9,715.6 L216.0,717.0 L216.1,718.5 L216.3,720.0 L216.4,721.5 L216.5,723.0 L216.6,724.4 L216.7,725.9 L216.8,727.4 L216.9,728.8 L217.0,730.3 L217.1,731.7 L217.2,733.2 L217.3,734.6 L217.4,736.0 L217.5,737.6 L217.6,739.1 L217.7,740.6 L217.8,742.2 L218.0,743.7 L218.1,745.2 L218.2,746.7 L218.3,748.2 L218.4,749.7 L218.5,751.2 L218.6,752.7 L218.7,754.2 L218.8,755.6 L219.0,757.1 L219.1,758.6 L219.2,760.0 L219.3,761.5 L219.4,762.9 L219.6,764.4 L219.7,765.8 L219.8,767.2 L219.9,768.7 L220.0,770.1 L220.2,771.5 L220.3,772.9 L220.4,774.3 L220.6,775.8 L220.7,777.2 L220.9,779.4 L221.1,781.6 L221.4,783.6 L221.6,785.6 L221.9,787.4 L222.1,789.1 L222.4,790.5 L222.6,791.6 L222.9,792.5 L223.2,793.0 L223.4,793.1 L223.7,792.9 L224.0,792.2 L224.3,791.3 L224.6,790.1 L224.9,788.6 L225.2,786.9 L225.6,785.1 L225.9,783.2 L226.2,781.2 L226.5,779.2 L226.7,777.2 L227.0,775.7 L227.2,774.2 L227.4,772.8 L227.6,771.4 L227.8,770.0 L228.0,768.6 L228.2,767.2 L228.4,765.8 L228.6,764.5 L228.9,763.1 L229.1,761.7 L229.3,760.3 L229.5,758.9 L229.8,757.5 L230.0,756.1 L230.3,754.6 L230.6,753.1 L230.9,751.6 L231.1,750.0 L231.4,748.7 L231.6,747.3 L231.9,746.0 L232.2,744.6 L232.5,743.2 L232.8,741.7 L233.1,740.3 L233.4,738.8 L233.7,737.4 L234.0,735.9 L234.3,734.4 L234.7,732.9 L235.0,731.4 L235.4,729.9 L235.7,728.3 L236.1,726.8 L236.5,725.3 L236.9,723.8 L237.3,722.3 L237.7,720.8 L238.1,719.3 L238.5,717.8 L238.9,716.4 L239.3,714.9 L239.8,713.5 L240.2,712.0 L240.7,710.6 L241.1,709.3 L241.6,707.9 L242.2,706.2 L242.8,704.6 L243.4,703.1 L244.0,701.5 L244.6,700.0 L245.3,698.6 L245.9,697.2 L246.6,695.8 L247.3,694.5 L248.0,693.2 L248.7,691.9 L249.5,690.7 L250.3,689.5 L251.0,688.3 L251.9,687.2 L252.7,686.2 L253.5,685.1 L254.4,684.2 L255.3,683.2 L256.4,682.2 L257.5,681.2 L258.6,680.3 L259.8,679.4 L261.0,678.5 L262.2,677.7 L263.4,677.0 L264.7,676.3 L266.0,675.6 L267.4,675.0 L268.7,674.4 L270.1,673.8 L271.5,673.3 L272.9,672.8 L274.2,672.3 L275.5,671.9 L276.9,671.5 L278.3,671.1 L279.6,670.8 L281.1,670.5 L282.5,670.2 L283.9,669.9 L285.4,669.6 L286.8,669.4 L288.3,669.2 L289.8,669.0 L291.4,668.9 L292.9,668.7 L294.5,668.6 L296.0,668.6 L297.6,668.5 L299.0,668.5 L300.5,668.5 L301.9,668.5 L303.4,668.6 L304.8,668.6 L306.3,668.7 L307.8,668.8 L309.2,668.9 L310.7,669.0 L312.2,669.1 L313.7,669.3 L315.2,669.4 L316.7,669.6 L318.2,669.7 L319.7,669.9 L321.2,670.0 L322.7,670.2 L324.2,670.4 L325.6,670.5 L327.1,670.7 L328.6,670.9 L330.0,671.0 L331.5,671.2 L333.0,671.3 L334.4,671.5 L335.9,671.6 L337.3,671.8 L338.8,671.9 L340.2,672.1 L341.6,672.2 L343.1,672.4 L344.5,672.5 L345.9,672.7 L347.3,672.8 L348.8,673.0 L350.2,673.1 L351.6,673.3 L353.1,673.5 L354.5,673.7 L355.9,673.9 L357.4,674.1 L358.8,674.3 L360.3,674.5 L361.7,674.7 L363.2,675.0 L364.6,675.2 L366.1,675.5 L367.5,675.7 L369.0,676.0 L370.5,676.2 L372.0,676.5 L373.5,676.7 L374.9,677.0 L376.4,677.2 L377.9,677.4 L379.4,677.6 L380.9,677.8 L382.4,678.0 L383.8,678.1 L385.3,678.3 L386.8,678.4 L388.3,678.4 L389.8,678.5 L391.2,678.5 L392.7,678.5 L394.4,678.4 L396.2,678.3 L397.9,678.2 L399.6,678.0 L401.3,677.8 L402.9,677.5 L404.5,677.3 L406.0,677.0 L407.5,676.7 L408.9,676.4 L410.2,676.1 L411.5,675.8 L412.6,675.5 L413.7,675.3 L414.7,675.0 L416.2,674.6 L417.5,674.2 L418.8,673.7 L420.0,673.3 L421.1,672.8 L422.3,672.3 L423.5,671.8 L424.8,671.1 L426.2,670.4 L427.6,669.6 L428.9,668.8 L430.1,668.0 L431.3,667.2 L432.4,666.3 L433.5,665.5 L434.6,664.6 L435.7,663.6 L436.8,662.7 L437.9,661.8 L438.9,660.9 L439.9,660.0 L441.0,659.2 L442.0,658.3 L443.0,657.4 L443.9,656.5 L444.9,655.6 L445.8,654.6 L446.8,653.5 L447.7,652.3 L448.7,651.1 L449.5,650.0 L450.3,648.9 L451.0,647.8 L451.8,646.6 L452.6,645.3 L453.4,644.0 L454.1,642.7 L454.9,641.4 L455.7,640.1 L456.4,638.7 L457.1,637.4 L457.8,636.1 L458.5,634.8 L459.1,633.5 L459.7,632.3 L460.3,631.1 L461.0,629.6 L461.7,628.2 L462.3,626.8 L462.9,625.6 L463.5,624.4 L464.0,623.4 L464.6,622.4 L465.2,621.4 L466.3,620.1 L467.4,619.2 L468.5,618.9 L469.4,619.4 L470.2,620.2 L471.0,621.4 L471.8,622.7 L472.4,623.7 L473.0,624.7 L473.5,625.8 L474.1,627.0 L474.6,628.2 L475.1,629.6 L475.7,631.1 L476.0,632.2 L476.3,633.4 L476.7,634.6 L477.0,635.8 L477.3,637.2 L477.7,638.5 L478.0,639.9 L478.4,641.4 L478.7,642.8 L479.1,644.3 L479.4,645.8 L479.7,647.3 L480.1,648.9 L480.5,650.4 L480.8,651.9 L481.2,653.4 L481.5,654.9 L481.9,656.4 L482.2,657.8 L482.7,659.6 L483.2,661.3 L483.7,663.0 L484.2,664.6 L484.7,666.1 L485.2,667.5 L485.8,668.9 L486.3,670.2 L486.9,671.4 L487.5,672.5 L488.2,673.6 L488.8,674.5 L489.9,675.7 L490.9,676.6 L492.0,677.3 L493.2,677.7 L494.3,677.7 L495.4,677.5 L496.5,676.9 L497.6,676.1 L498.7,675.0 L499.8,673.8 L500.9,672.5 L502.0,671.0 L502.8,670.0 L503.5,668.9 L504.3,667.8 L505.1,666.7 L505.8,665.6 L506.6,664.4 L507.4,663.2 L508.2,662.0 L508.9,660.8 L509.7,659.6 L510.5,658.3 L511.3,657.1 L512.0,655.8 L512.8,654.6 L513.6,653.3 L514.3,652.1 L515.1,650.8 L515.9,649.6 L516.6,648.3 L517.4,647.1 L518.1,645.9 L518.9,644.7 L519.6,643.5 L520.3,642.3 L521.1,641.1 L521.8,639.9 L522.5,638.8 L523.2,637.6 L523.9,636.5 L524.6,635.4 L525.4,634.0 L526.3,632.6 L527.1,631.2 L527.9,630.0 L528.6,628.7 L529.3,627.5 L530.0,626.4 L530.6,625.4 L531.2,624.4 L531.8,623.2 L532.4,622.1 L532.9,621.1 L533.3,620.2"/>
<path stroke="#ff0000" d="M118.5,770.4 L120.0,770.1 L121.6,769.8 L123.1,769.5 L124.6,769.2 L126.2,768.9 L127.7,768.6 L129.2,768.4 L130.7,768.1 L132.3,767.8 L133.8,767.5 L135.3,767.3 L136.8,767.0 L138.3,766.8 L139.8,766.6 L141.3,766.4 L142.7,766.2 L144.2,766.0 L145.7,765.8 L147.1,765.7 L148.6,765.6 L150.0,765.5 L151.4,765.4 L152.8,765.3 L154.2,765.2 L155.6,765.2 L157.0,765.2 L158.6,765.2 L160.3,765.3 L161.9,765.4 L163.5,765.5 L165.1,765.7 L166.7,765.9 L168.2,766.1 L169.7,766.4 L171.2,766.7 L172.6,767.0 L174.0,767.4 L175.4,767.8 L176.7,768.2 L178.0,768.6 L179.3,769.1 L180.5,769.6 L181.7,770.2 L183.0,770.8 L184.2,771.5 L185.4,772.2 L186.5,773.0 L187.7,773.8 L188.7,774.6 L189.8,775.5 L190.9,776.4 L191.9,777.4 L192.9,778.4 L193.9,779.4 L195.0,780.5 L196.0,781.6 L197.2,783.0 L198.4,784.4 L199.5,785.8 L200.7,787.1 L201.9,788.2 L203.0,789.3 L204.1,790.1 L205.1,790.7 L206.1,791.1 L207.0,791.1 L207.7,790.9 L208.4,790.3 L209.0,789.6 L209.6,788.7 L210.1,787.5 L210.6,786.2 L211.0,784.7 L211.5,783.1 L211.9,781.3 L212.3,779.4 L212.6,777.5 L212.9,775.4 L213.3,773.3 L213.6,771.2 L213.7,769.8 L213.9,768.5 L214.1,767.2 L214.3,765.8 L214.4,764.4 L214.6,763.1 L214.8,761.7 L214.9,760.3 L215.1,758.9 L215.2,757.5 L215.4,756.1 L215.5,754.6 L215.7,753.2 L215.8,751.8 L216.0,750.3 L216.1,748.9 L216.2,747.4 L216.4,746.0 L216.5,744.5 L216.6,743.0 L216.8,741.5 L216.9,740.0 L217.0,738.6 L217.1,737.1 L217.3,735.5 L217.4,734.0 L217.5,732.5 L217.6,731.0 L217.7,729.5 L217.8,727.9 L218.0,726.4 L218.1,724.8 L218.2,723.3 L218.3,721.7 L218.4,720.2 L218.5,718.6 L218.6,717.0 L218.7,715.4 L218.8,713.8 L218.9,712.1 L219.1,710.5 L219.2,708.9 L219.3,707.3 L219.4,705.7 L219.5,704.1 L219.6,702.5 L219.8,700.9 L219.9,699.3 L220.0,697.7 L220.2,696.2 L220.3,694.6 L220.5,693.1 L220.6,691.6 L220.8,690.1 L220.9,688.6 L221.1,687.1 L221.3,685.7 L221.5,684.3 L221.7,682.9 L221.9,681.5 L222.1,680.1 L222.3,678.8 L222.6,677.5 L222.8,676.2 L223.1,675.0 L223.4,673.8 L223.6,672.6 L223.9,671.5 L224.2,670.3 L224.5,669.3 L225.2,667.4 L225.9,665.6 L226.6,664.0 L227.3,662.6 L228.1,661.4 L229.0,660.5 L229.8,659.8 L230.8,659.4 L231.7,659.3 L232.7,659.5 L233.7,660.0 L234.7,660.7 L235.8,661.7 L236.9,662.7 L238.1,663.9 L239.2,665.1 L240.4,666.3 L241.6,667.5 L242.7,668.5 L243.8,669.5 L245.0,670.3 L246.2,671.2 L247.4,671.9 L248.6,672.6 L249.9,673.3 L251.2,673.9 L252.5,674.5 L253.9,675.0 L255.3,675.5 L256.6,675.9 L257.9,676.3 L259.2,676.7 L260.6,677.0 L261.9,677.4 L263.3,677.7 L264.8,678.0 L266.2,678.3 L267.7,678.5 L269.2,678.8 L270.6,679.0 L272.2,679.2 L273.7,679.4 L275.2,679.6 L276.7,679.7 L278.2,679.9 L279.6,680.0 L281.1,680.1 L282.6,680.2 L284.0,680.2 L285.5,680.3 L287.0,680.3 L288.4,680.3 L289.9,680.3 L291.3,680.3 L292.8,680.3 L294.3,680.2 L295.7,680.2 L297.2,680.1 L298.6,680.0 L300.0,679.9 L301.5,679.7 L303.0,679.6 L304.4,679.4 L305.9,679.2 L307.4,679.0 L308.9,678.8 L310.3,678.6 L311.8,678.3 L313.2,678.1 L314.7,677.9 L316.2,677.6 L317.6,677.4 L319.1,677.1 L320.6,676.9 L322.1,676.7 L323.6,676.5 L325.1,676.2 L326.5,676.1 L327.9,675.9 L329.3,675.7 L330.7,675.6 L332.1,675.4 L333.6,675.3 L335.0,675.2 L336.5,675.0 L337.9,674.9 L339.4,674.8 L340.9,674.6 L342.4,674.5 L343.9,674.4 L345.4,674.2 L346.9,674.1 L348.4,674.0 L350.0,673.8 L351.6,673.7 L353.1,673.5 L354.6,673.3 L356.1,673.2 L357.6,673.0 L359.0,672.9 L360.5,672.7 L362.0,672.5 L363.6,672.3 L365.1,672.2 L366.6,672.0 L368.1,671.8 L369.6,671.7 L371.1,671.5 L372.6,671.4 L374.0,671.3 L375.5,671.1 L377.0,671.0 L378.4,671.0 L379.9,670.9 L381.3,670.8 L382.7,670.8 L384.2,670.8 L385.5,670.8 L387.2,670.8 L388.8,670.9 L390.4,670.9 L392.0,671.1 L393.6,671.2 L395.1,671.3 L396.6,671.5 L398.0,671.7 L399.5,671.9 L400.9,672.0 L402.3,672.2 L403.6,672.4 L405.0,672.6 L406.3,672.8 L407.5,673.0 L409.1,673.2 L410.6,673.4 L412.1,673.6 L413.5,673.9 L414.9,674.1 L416.3,674.4 L417.6,674.7 L418.8,675.1 L420.0,675.5 L421.4,676.1 L422.7,676.8 L424.0,677.5 L425.3,678.3 L426.5,679.2 L427.7,680.1 L428.9,681.0 L430.1,681.9 L431.2,682.8 L432.3,683.7 L433.4,684.7 L434.5,685.7 L435.6,686.7 L436.7,687.8 L437.7,689.0 L438.6,690.0 L439.5,691.0 L440.3,692.1 L441.1,693.2 L442.0,694.4 L442.7,695.6 L443.5,696.8 L444.3,698.1 L445.1,699.4 L445.8,700.8 L446.5,702.2 L447.1,703.4 L447.7,704.6 L448.3,705.9 L448.9,707.1 L449.5,708.5 L450.0,709.8 L450.6,711.2 L451.1,712.5 L451.7,713.9 L452.2,715.4 L452.7,716.8 L453.3,718.3 L453.8,719.8 L454.3,721.3 L454.8,722.8 L455.3,724.3 L455.8,725.8 L456.2,727.2 L456.7,728.6 L457.2,730.1 L457.6,731.5 L458.1,733.0 L458.5,734.4 L458.9,735.9 L459.4,737.3 L459.8,738.7 L460.2,740.2 L460.6,741.6 L461.0,743.0 L461.4,744.4 L461.8,745.8 L462.2,747.1 L462.6,748.4 L462.9,749.7 L463.3,751.0 L463.8,752.7 L464.2,754.4 L464.7,756.0 L465.1,757.5 L465.6,759.0 L466.0,760.4 L466.5,761.7 L467.0,762.9 L467.4,764.1 L468.0,765.2 L468.7,766.6 L469.5,767.7 L470.4,768.5 L471.3,768.7 L472.1,768.4 L473.0,767.6 L473.8,766.5 L474.6,765.2 L475.1,764.1 L475.6,763.0 L476.1,761.8 L476.6,760.5 L477.0,759.0 L477.4,757.4 L477.9,755.5 L478.1,754.4 L478.3,753.3 L478.5,752.1 L478.7,750.8 L479.0,749.5 L479.2,748.2 L479.4,746.8 L479.7,745.3 L479.9,743.8 L480.1,742.3 L480.4,740.8 L480.6,739.2 L480.9,737.6 L481.1,736.0 L481.4,734.4 L481.6,732.8 L481.9,731.2 L482.1,729.5 L482.4,727.9 L482.6,726.3 L482.9,724.7 L483.1,723.1 L483.4,721.6 L483.7,720.0 L483.9,718.5 L484.2,717.0 L484.4,715.6 L484.8,713.8 L485.1,712.1 L485.5,710.4 L485.9,708.8 L486.2,707.3 L486.6,705.8 L487.0,704.4 L487.5,703.1 L487.9,701.8 L488.4,700.6 L488.8,699.4 L489.3,698.4 L489.9,697.3 L490.4,696.3 L491.0,695.4 L492.1,694.1 L493.1,692.9 L494.3,692.0 L495.5,691.3 L496.8,690.8 L498.2,690.7 L499.3,690.8 L500.5,691.2 L501.6,691.7 L502.8,692.4 L504.0,693.3 L505.2,694.2 L506.3,695.3 L507.5,696.5 L508.6,697.7 L509.5,698.7 L510.3,699.7 L511.2,700.7 L512.0,701.8 L512.8,702.9 L513.6,704.0 L514.3,705.1 L515.1,706.3 L515.8,707.6 L516.6,708.8 L517.3,710.1 L518.0,711.4 L518.8,712.8 L519.5,714.2 L520.2,715.6 L520.8,717.0 L521.4,718.4 L522.1,719.8 L522.7,721.2 L523.3,722.6 L523.9,724.1 L524.5,725.5 L525.1,726.9 L525.7,728.4 L526.2,729.8 L526.8,731.2 L527.3,732.5 L527.8,733.8 L528.3,735.1 L528.8,736.4 L529.2,737.6 L529.6,738.7 L530.1,739.8 L530.6,741.3 L531.2,742.7 L531.6,744.0 L532.1,745.2 L532.5,746.3 L532.9,747.4 L533.3,748.5"/>
<path stroke="#00c000" d="M118.5,767.9 L120.0,767.6 L121.5,767.3 L122.9,766.9 L124.4,766.6 L125.9,766.2 L127.3,765.9 L128.8,765.6 L130.3,765.3 L131.7,765.0 L133.2,764.6 L134.7,764.3 L136.1,764.1 L137.5,763.8 L139.0,763.5 L140.4,763.3 L141.8,763.0 L143.3,762.8 L144.7,762.6 L146.1,762.4 L147.5,762.2 L148.9,762.0 L150.2,761.9 L151.6,761.8 L153.0,761.7 L154.3,761.6 L155.6,761.5 L157.0,761.5 L158.6,761.4 L160.3,761.5 L161.9,761.5 L163.5,761.6 L165.1,761.7 L166.7,761.9 L168.2,762.1 L169.7,762.3 L171.2,762.6 L172.6,762.9 L174.0,763.2 L175.4,763.6 L176.7,764.0 L178.0,764.4 L179.3,764.9 L180.5,765.4 L181.7,765.9 L183.0,766.6 L184.2,767.3 L185.4,768.0 L186.6,768.8 L187.7,769.6 L188.8,770.5 L189.8,771.5 L190.9,772.4 L191.9,773.5 L192.9,774.6 L194.0,775.7 L195.0,776.9 L196.0,778.2 L197.1,779.6 L198.2,781.0 L199.2,782.4 L200.3,783.8 L201.4,785.1 L202.4,786.2 L203.4,787.2 L204.4,788.0 L205.3,788.6 L206.2,788.9 L207.0,788.9 L207.4,788.7 L207.9,788.4 L208.3,787.9 L208.7,787.4 L209.1,786.7 L209.4,786.0 L209.8,785.1 L210.1,784.1 L210.4,783.0 L210.7,781.8 L211.0,780.5 L211.2,779.2 L211.4,777.7 L211.7,776.2 L211.9,774.7 L212.1,773.0 L212.2,771.3 L212.4,769.5 L212.6,767.7 L212.7,765.8 L212.8,763.9 L213.0,761.9 L213.1,759.9 L213.2,757.9 L213.3,755.8 L213.4,753.7 L213.5,751.6 L213.6,749.5 L213.7,747.3 L213.8,745.2 L213.8,743.0 L213.9,741.6 L213.9,740.3 L214.0,738.9 L214.0,737.5 L214.1,736.1 L214.1,734.7 L214.2,733.3 L214.2,732.0 L214.3,730.6 L214.3,729.2 L214.4,727.8 L214.4,726.4 L214.4,725.0 L214.5,723.6 L214.5,722.3 L214.6,720.9 L214.6,719.5 L214.6,718.1 L214.7,716.7 L214.7,715.3 L214.8,713.9 L214.8,712.5 L214.8,711.1 L214.9,709.7 L214.9,708.2 L214.9,706.8 L215.0,705.4 L215.0,704.0 L215.0,702.6 L215.1,701.1 L215.1,699.7 L215.1,698.3 L215.2,696.8 L215.2,695.4 L215.2,693.9 L215.3,692.5 L215.3,691.0 L215.3,689.6 L215.4,688.1 L215.4,686.6 L215.4,685.1 L215.4,683.6 L215.5,682.2 L215.5,680.7 L215.5,679.2 L215.5,677.6 L215.6,676.1 L215.6,674.6 L215.6,673.1 L215.6,671.6 L215.7,670.0 L215.7,668.5 L215.7,666.9 L215.7,665.4 L215.8,663.8 L215.8,662.2 L215.8,660.6 L215.8,659.0 L215.8,657.4 L215.9,655.8 L215.9,654.2 L215.9,652.6 L215.9,651.0 L215.9,649.3 L216.0,647.7 L216.0,646.0 L216.0,644.3 L216.0,642.7 L216.0,641.0 L216.1,639.3 L216.1,637.6 L216.1,635.9 L216.1,634.1 L216.1,632.4 L216.1,630.6 L216.2,629.1 L216.2,627.6 L216.2,626.1 L216.2,624.5 L216.2,623.0 L216.2,621.4 L216.2,619.8 L216.3,618.3 L216.3,616.7 L216.3,615.1 L216.3,613.5 L216.3,611.9 L216.3,610.3 L216.3,608.7 L216.3,607.1 L216.4,605.5 L216.4,603.9 L216.4,602.3 L216.4,600.6 L216.4,599.0 L216.4,597.4 L216.4,595.8 L216.4,594.1 L216.4,592.5 L216.5,590.9 L216.5,589.2 L216.5,587.6 L216.5,585.9 L216.5,584.3 L216.5,582.7 L216.5,581.0 L216.5,579.4 L216.5,577.7 L216.5,576.1 L216.6,574.5 L216.6,572.8 L216.6,571.2 L216.6,569.6 L216.6,567.9 L216.6,566.3 L216.6,564.7 L216.6,563.0 L216.6,561.4 L216.6,559.8 L216.7,558.2 L216.7,556.6 L216.7,555.0 L216.7,553.4 L216.7,551.8 L216.7,550.2 L216.7,548.6 L216.7,547.0 L216.7,545.4 L216.7,543.8 L216.7,542.3 L216.8,540.7 L216.8,539.2 L216.8,537.6 L216.8,536.1 L216.8,534.5 L216.8,533.0 L216.8,531.5 L216.8,530.0 L216.8,528.5 L216.8,527.0 L216.8,525.5 L216.8,524.0 L216.9,522.6 L216.9,521.1 L216.9,519.7 L216.9,518.2 L216.9,516.8 L216.9,515.4 L216.9,514.0 L216.9,512.6 L216.9,511.2 L216.9,509.8 L216.9,508.5 L216.9,507.1 L217.0,505.8 L217.0,504.5 L217.0,503.2 L217.0,501.9 L217.0,500.6 L217.0,499.3 L217.0,498.1 L217.0,496.8 L217.0,495.6 L217.0,494.4 L217.0,493.2 L217.1,492.0 L217.1,490.8 L217.1,489.7 L217.1,488.6 L217.1,487.4 L217.1,486.3 L217.1,485.3 L217.1,484.2 L217.1,483.1 L217.1,481.1 L217.2,479.1 L217.2,477.2 L217.2,475.4 L217.2,473.6 L217.3,471.8 L217.3,470.2 L217.3,468.5 L217.3,466.9 L217.3,465.4 L217.4,463.9 L217.4,462.4 L217.4,461.0 L217.4,459.6 L217.4,458.3 L217.5,456.9 L217.5,455.6 L217.5,454.4 L217.5,453.1 L217.6,451.8 L217.6,450.6 L217.6,449.4 L217.6,448.2 L217.7,447.0 L217.7,445.8"/>
<path stroke="#00c000" d="M247.1,458.2 L247.1,459.8 L247.1,461.3 L247.2,462.9 L247.2,464.5 L247.2,466.0 L247.3,467.6 L247.3,469.1 L247.4,470.7 L247.4,472.2 L247.5,473.7 L247.5,475.3 L247.6,476.8 L247.7,478.3 L247.8,479.8 L247.9,481.3 L247.9,482.8 L248.1,484.2 L248.2,485.7 L248.3,487.2 L248.4,488.6 L248.6,490.0 L248.7,491.4 L248.9,492.8 L249.1,494.2 L249.3,495.6 L249.5,497.2 L249.8,498.7 L250.1,500.3 L250.4,501.8 L250.7,503.3 L251.0,504.8 L251.3,506.3 L251.6,507.7 L252.0,509.2 L252.4,510.6 L252.7,512.0 L253.1,513.4 L253.5,514.8 L253.8,516.1 L254.2,517.5 L254.6,518.8 L254.9,520.2 L255.3,521.5 L255.7,523.0 L256.1,524.4 L256.5,525.8 L256.9,527.3 L257.4,528.7 L257.8,530.1 L258.2,531.5 L258.7,532.9 L259.1,534.3 L259.6,535.7 L260.1,537.1 L260.7,538.5 L261.2,539.9 L261.8,541.3 L262.5,542.7 L263.1,544.0 L263.8,545.4 L264.5,546.7 L265.3,548.1 L266.0,549.4 L266.9,550.7 L267.7,552.0 L268.6,553.3 L269.5,554.5 L270.4,555.7 L271.4,556.8 L272.4,557.9 L273.5,559.0 L274.5,560.0 L275.6,561.0 L276.7,561.9 L278.0,562.8 L279.2,563.6 L280.5,564.3 L281.8,565.0 L283.1,565.6 L284.5,566.1 L285.8,566.6 L287.2,567.0 L288.6,567.4 L290.1,567.6 L291.5,567.9 L293.0,568.0 L294.5,568.1 L296.0,568.1 L297.5,568.1 L299.0,568.0 L300.5,567.8 L302.0,567.6 L303.4,567.4 L304.9,567.1 L306.3,566.8 L307.7,566.4 L309.1,566.0 L310.4,565.6 L311.7,565.2 L312.9,564.8 L314.1,564.3 L315.2,563.9 L316.6,563.3 L317.8,562.7 L319.0,562.0 L320.2,561.4 L321.4,560.7 L322.5,560.0 L323.8,559.2 L325.1,558.4 L326.1,557.8 L327.1,557.2 L328.2,556.5 L329.3,555.8 L330.5,555.1 L331.6,554.4 L332.9,553.7 L334.1,553.0 L335.4,552.2 L336.7,551.4 L338.0,550.7 L339.3,549.9 L340.7,549.2 L342.0,548.4 L343.3,547.7 L344.7,546.9 L346.0,546.2 L347.4,545.4 L348.7,544.7 L350.1,543.9 L351.4,543.2 L352.8,542.5 L354.1,541.8 L355.4,541.2 L356.8,540.5 L358.1,539.9 L359.4,539.2 L360.7,538.6 L362.1,538.0 L363.4,537.4 L364.7,536.8 L366.1,536.3 L367.4,535.7 L368.8,535.2 L370.2,534.6 L371.5,534.1 L372.9,533.6 L374.3,533.1 L375.7,532.7 L377.1,532.3 L378.5,531.9 L379.9,531.6 L381.3,531.3 L382.7,531.0 L384.1,530.8 L385.5,530.6 L386.9,530.5 L388.3,530.5 L389.8,530.5 L391.2,530.6 L392.6,530.7 L394.1,530.9 L395.5,531.2 L396.9,531.5 L398.2,531.9 L399.6,532.4 L400.9,532.9 L402.2,533.5 L403.4,534.2 L404.7,534.9 L405.9,535.7 L407.0,536.6 L408.1,537.5 L409.2,538.4 L410.3,539.5 L411.3,540.5 L412.3,541.6 L413.3,542.8 L414.3,543.9 L415.2,545.2 L416.1,546.4 L417.0,547.6 L417.9,548.9 L418.8,550.1 L419.6,551.4 L420.4,552.6 L421.2,553.9 L422.0,555.1 L422.8,556.3 L423.6,557.6 L424.3,558.9 L425.1,560.1 L425.8,561.4 L426.5,562.7 L427.3,564.0 L427.9,565.3 L428.6,566.7 L429.3,568.0 L430.0,569.4 L430.6,570.8 L431.1,572.1 L431.6,573.3 L432.1,574.5 L432.6,575.8 L433.1,577.0 L433.6,578.3 L434.1,579.7 L434.5,581.0 L435.0,582.3 L435.4,583.7 L435.9,585.1 L436.3,586.5 L436.7,587.9 L437.2,589.4 L437.6,590.8 L438.0,592.3 L438.4,593.8 L438.8,595.3 L439.2,596.9 L439.6,598.4 L439.9,600.0 L440.3,601.3 L440.6,602.6 L440.9,604.0 L441.2,605.3 L441.5,606.7 L441.8,608.0 L442.1,609.4 L442.4,610.8 L442.7,612.2 L443.0,613.6 L443.2,615.0 L443.5,616.4 L443.8,617.9 L444.1,619.3 L444.4,620.7 L444.7,622.2 L444.9,623.6 L445.2,625.1 L445.5,626.6 L445.8,628.0 L446.0,629.5 L446.3,631.0 L446.6,632.5 L446.9,633.9 L447.1,635.4 L447.4,636.9 L447.7,638.4 L447.9,639.9 L448.2,641.4 L448.5,642.9 L448.7,644.4 L449.0,645.8 L449.2,647.2 L449.5,648.6 L449.7,650.0 L450.0,651.4 L450.2,652.9 L450.5,654.3 L450.8,655.7 L451.0,657.1 L451.3,658.5 L451.5,660.0 L451.8,661.4 L452.0,662.8 L452.3,664.2 L452.5,665.7 L452.8,667.1 L453.0,668.5 L453.3,669.9 L453.5,671.4 L453.8,672.8 L454.1,674.2 L454.3,675.7 L454.6,677.1 L454.8,678.6 L455.1,680.0 L455.4,681.5 L455.6,682.9 L455.9,684.4 L456.2,685.8 L456.4,687.3 L456.7,688.8 L457.0,690.2 L457.2,691.7 L457.5,693.2 L457.8,694.7 L458.1,696.3 L458.4,697.9 L458.7,699.4 L459.0,701.0 L459.3,702.6 L459.6,704.1 L459.9,705.7 L460.2,707.2 L460.5,708.8 L460.7,710.3 L461.0,711.8 L461.3,713.4 L461.6,714.9 L461.9,716.4 L462.2,717.9 L462.4,719.3 L462.7,720.8 L463.0,722.2 L463.2,723.7 L463.5,725.1 L463.8,726.4 L464.0,727.8 L464.2,729.1 L464.5,730.5 L464.7,731.8 L464.9,733.0 L465.2,734.3 L465.4,735.5 L465.6,736.6 L465.8,737.8 L466.1,739.6 L466.3,741.2 L466.6,742.9 L466.9,744.4 L467.1,745.9 L467.4,747.3 L467.6,748.7 L467.9,750.0 L468.1,751.2 L468.4,752.4 L468.7,753.6 L469.1,754.7 L469.7,756.5 L470.3,758.1 L471.1,759.1 L471.8,759.5 L472.6,759.0 L473.3,757.9 L474.0,756.4 L474.6,754.7 L474.9,753.6 L475.2,752.4 L475.5,751.2 L475.7,749.9 L475.9,748.5 L476.1,747.1 L476.3,745.6 L476.5,743.9 L476.8,742.0 L476.9,741.1 L477.0,740.1 L477.1,739.0 L477.2,737.9 L477.3,736.8 L477.5,735.6 L477.6,734.4 L477.7,733.2 L477.8,731.9 L478.0,730.6 L478.1,729.3 L478.3,728.0 L478.4,726.6 L478.5,725.2 L478.7,723.7 L478.8,722.3 L479.0,720.8 L479.1,719.3 L479.3,717.7 L479.4,716.2 L479.6,714.6 L479.7,713.0 L479.9,711.4 L480.0,709.8 L480.2,708.2 L480.4,706.5 L480.5,704.9 L480.7,703.2 L480.8,701.5 L481.0,699.8 L481.1,698.1 L481.3,696.4 L481.4,694.7 L481.5,693.0 L481.7,691.3 L481.8,689.6 L482.0,687.9 L482.1,686.2 L482.2,684.5 L482.4,682.8 L482.5,681.2 L482.6,679.5 L482.7,677.9 L482.9,676.3 L483.0,674.7 L483.1,673.1 L483.2,671.4 L483.3,669.8 L483.4,668.2 L483.6,666.6 L483.7,665.1 L483.8,663.5 L483.9,661.9 L484.0,660.4 L484.1,658.8 L484.2,657.3 L484.3,655.7 L484.4,654.2 L484.5,652.7 L484.6,651.2 L484.7,649.7 L484.8,648.2 L484.9,646.7 L485.0,645.2 L485.1,643.8 L485.2,642.3 L485.3,640.9 L485.4,639.5 L485.5,638.0 L485.6,636.6 L485.7,635.3 L485.7,633.9 L485.8,632.5 L485.9,631.2 L486.0,629.9 L486.1,628.5 L486.2,627.2 L486.3,625.9 L486.4,624.7 L486.5,623.4 L486.6,622.2 L486.8,620.5 L486.9,618.8 L487.1,617.2 L487.2,615.5 L487.4,614.0 L487.5,612.4 L487.7,610.9 L487.9,609.4 L488.0,607.9 L488.2,606.5 L488.3,605.0 L488.5,603.6 L488.6,602.3 L488.8,600.9 L489.0,599.6 L489.1,598.3 L489.3,597.0 L489.5,595.7 L489.6,594.5 L489.8,593.2 L489.9,592.0 L490.2,590.3 L490.4,588.6 L490.7,587.0 L490.9,585.4 L491.2,583.9 L491.5,582.5 L491.9,581.2 L492.3,580.0 L492.7,578.8 L493.2,577.8 L494.3,576.3 L495.4,575.4 L496.5,575.1 L497.4,575.4 L498.3,576.3 L499.1,577.5 L499.8,579.1 L500.2,580.0 L500.6,581.1 L501.0,582.2 L501.3,583.4 L501.7,584.6 L502.0,585.9 L502.4,587.2 L502.7,588.7 L503.1,590.1 L503.4,591.7 L503.8,593.2 L504.2,594.9 L504.5,596.5 L504.9,598.2 L505.3,600.0 L505.6,601.3 L505.9,602.5 L506.2,603.8 L506.5,605.1 L506.8,606.5 L507.1,607.8 L507.5,609.1 L507.8,610.5 L508.1,611.9 L508.5,613.3 L508.8,614.7 L509.1,616.1 L509.5,617.5 L509.8,619.0 L510.2,620.4 L510.5,621.9 L510.9,623.4 L511.2,624.8 L511.6,626.3 L511.9,627.8 L512.3,629.3 L512.6,630.8 L513.0,632.3 L513.4,633.8 L513.7,635.3 L514.1,636.8 L514.4,638.3 L514.7,639.8 L515.1,641.3 L515.4,642.8 L515.8,644.4 L516.1,645.9 L516.4,647.4 L516.7,648.9 L517.1,650.4 L517.4,651.8 L517.7,653.3 L518.0,654.8 L518.3,656.3 L518.6,657.8 L518.9,659.3 L519.2,660.7 L519.5,662.2 L519.8,663.7 L520.1,665.1 L520.4,666.6 L520.7,668.0 L520.9,669.5 L521.2,670.9 L521.5,672.3 L521.8,673.8 L522.0,675.2 L522.3,676.6 L522.5,678.0 L522.8,679.4 L523.1,680.8 L523.3,682.2 L523.6,683.5 L523.8,684.9 L524.1,686.3 L524.3,687.6 L524.6,689.0 L524.9,690.6 L525.2,692.2 L525.4,693.9 L525.7,695.5 L526.0,697.1 L526.3,698.6 L526.6,700.2 L526.9,701.7 L527.1,703.2 L527.4,704.7 L527.7,706.1 L528.0,707.5 L528.2,708.9 L528.5,710.2 L528.8,711.6 L529.0,712.8 L529.3,714.1 L529.5,715.3 L529.8,716.5 L530.1,717.6 L530.4,719.2 L530.8,720.7 L531.2,722.1 L531.5,723.5 L531.9,724.8 L532.3,726.1 L532.6,727.4 L533.0,728.6 L533.3,729.8"/>
</g>
<line x1="119.6" y1="520.5" x2="531.7" y2="520.5" stroke="#000" stroke-width="2.6" stroke-dasharray="4.8 4.5"/>
<line x1="119.6" y1="570.4" x2="531.7" y2="570.4" stroke="#000" stroke-width="2.6" stroke-dasharray="4.8 4.5"/>
<line x1="119.6" y1="675.0" x2="531.7" y2="675.0" stroke="#000" stroke-width="2.6" stroke-dasharray="6.3 3.02 1.6 3.02"/>
<line x1="254.4" y1="794.6" x2="254.4" y2="495.6" stroke="#000" stroke-width="2.6" stroke-dasharray="4.8 4.5"/>
<line x1="429.3" y1="794.6" x2="429.3" y2="495.6" stroke="#000" stroke-width="2.6" stroke-dasharray="4.8 4.5"/>
<path d="M119.6,794.6v-9.6M119.6,495.6v9.6M174.5,794.6v-9.6M174.5,495.6v9.6M229.5,794.6v-9.6M229.5,495.6v9.6M284.4,794.6v-9.6M284.4,495.6v9.6M339.4,794.6v-9.6M339.4,495.6v9.6M394.3,794.6v-9.6M394.3,495.6v9.6M449.3,794.6v-9.6M449.3,495.6v9.6M504.2,794.6v-9.6M504.2,495.6v9.6M119.6,794.6h9.6M531.7,794.6h-9.6M119.6,744.8h9.6M531.7,744.8h-9.6M119.6,694.9h9.6M531.7,694.9h-9.6M119.6,645.1h9.6M531.7,645.1h-9.6M119.6,595.3h9.6M531.7,595.3h-9.6M119.6,545.4h9.6M531.7,545.4h-9.6M119.6,495.6h9.6M531.7,495.6h-9.6" stroke="#000" stroke-width="2" fill="none"/>
<rect x="119.6" y="495.6" width="412.1" height="299.0" fill="none" stroke="#000" stroke-width="2.5"/>
<text x="84.8" y="807.2" font-family="'Liberation Serif', serif" font-size="37" text-anchor="start">0</text>
<text x="58.0" y="757.4" font-family="'Liberation Serif', serif" font-size="37" text-anchor="start">0.2</text>
<text x="56.1" y="707.5" font-family="'Liberation Serif', serif" font-size="37" text-anchor="start">0.4</text>
<text x="56.9" y="657.7" font-family="'Liberation Serif', serif" font-size="37" text-anchor="start">0.6</text>
<text x="57.4" y="607.9" font-family="'Liberation Serif', serif" font-size="37" text-anchor="start">0.8</text>
<text x="59.5" y="558.0" font-family="'Liberation Serif', serif" font-size="37" text-anchor="start">1.0</text>
<text x="60.6" y="508.2" font-family="'Liberation Serif', serif" font-size="37" text-anchor="start">1.2</text>
<text x="120.2" y="836.8" font-family="'Liberation Serif', serif" font-size="37" text-anchor="middle">3</text>
<text x="175.1" y="836.8" font-family="'Liberation Serif', serif" font-size="37" text-anchor="middle">4</text>
<text x="230.1" y="836.8" font-family="'Liberation Serif', serif" font-size="37" text-anchor="middle">5</text>
<text x="285.0" y="836.8" font-family="'Liberation Serif', serif" font-size="37" text-anchor="middle">6</text>
<text x="340.0" y="836.8" font-family="'Liberation Serif', serif" font-size="37" text-anchor="middle">7</text>
<text x="394.9" y="836.8" font-family="'Liberation Serif', serif" font-size="37" text-anchor="middle">8</text>
<text x="449.9" y="836.8" font-family="'Liberation Serif', serif" font-size="37" text-anchor="middle">9</text>
<text x="507.9" y="836.8" font-family="'Liberation Serif', serif" font-size="37" text-anchor="middle">10</text>
<text x="325.7" y="874.1" font-family="'Liberation Serif', serif" font-size="37" text-anchor="middle">Frequency / GHz</text>
<g clip-path="url(#clipd)" fill="none" stroke-width="3.2" stroke-linejoin="round" stroke-linecap="round">
<path stroke="#0000ff" d="M927.4,555.9 L928.8,556.1 L930.3,556.2 L931.7,556.4 L933.1,556.6 L934.5,556.8 L936.0,556.9 L937.4,557.1 L938.8,557.3 L940.3,557.4 L941.7,557.6 L943.1,557.8 L944.6,557.9 L946.0,558.1 L947.4,558.3 L948.9,558.4 L950.3,558.6 L951.7,558.7 L953.2,558.9 L954.6,559.0 L956.0,559.2 L957.5,559.3 L958.9,559.5 L960.4,559.6 L962.0,559.8 L963.6,560.0 L965.2,560.1 L966.8,560.3 L968.4,560.4 L970.0,560.6 L971.6,560.7 L973.1,560.9 L974.6,561.0 L976.2,561.2 L977.6,561.4 L979.1,561.5 L980.5,561.7 L981.9,561.9 L983.3,562.1 L984.6,562.3 L985.9,562.5 L987.2,562.7 L988.4,562.9 L990.1,563.2 L991.6,563.6 L993.1,564.0 L994.5,564.4 L995.8,565.0 L997.1,565.6 L998.3,566.3 L999.4,567.1 L1000.5,568.1 L1001.3,569.0 L1002.2,570.0 L1002.9,571.1 L1003.7,572.2 L1004.4,573.4 L1005.1,574.7 L1005.8,576.0 L1006.5,577.4 L1007.1,578.8 L1007.7,580.3 L1008.2,581.8 L1008.8,583.3 L1009.3,584.8 L1009.7,586.1 L1010.1,587.5 L1010.5,588.9 L1010.9,590.2 L1011.3,591.6 L1011.6,593.0 L1012.0,594.4 L1012.3,595.8 L1012.6,597.3 L1012.9,598.7 L1013.2,600.2 L1013.5,601.7 L1013.8,603.2 L1014.0,604.7 L1014.3,606.3 L1014.5,607.9 L1014.8,609.5 L1015.0,610.8 L1015.2,612.1 L1015.3,613.5 L1015.5,614.9 L1015.7,616.3 L1015.9,617.7 L1016.1,619.1 L1016.2,620.6 L1016.4,622.0 L1016.6,623.5 L1016.7,625.0 L1016.9,626.5 L1017.1,628.0 L1017.2,629.5 L1017.4,631.0 L1017.6,632.5 L1017.7,634.1 L1017.9,635.6 L1018.1,637.1 L1018.2,638.7 L1018.4,640.3 L1018.5,641.8 L1018.7,643.4 L1018.8,644.9 L1019.0,646.5 L1019.2,648.1 L1019.3,649.5 L1019.5,651.0 L1019.6,652.4 L1019.7,653.8 L1019.9,655.3 L1020.0,656.7 L1020.2,658.2 L1020.3,659.6 L1020.5,661.0 L1020.6,662.5 L1020.8,663.9 L1020.9,665.4 L1021.1,666.9 L1021.2,668.3 L1021.4,669.8 L1021.5,671.3 L1021.7,672.7 L1021.8,674.2 L1021.9,675.7 L1022.1,677.2 L1022.2,678.7 L1022.4,680.2 L1022.5,681.7 L1022.6,683.2 L1022.8,684.7 L1022.9,686.2 L1023.0,687.7 L1023.2,689.3 L1023.3,690.8 L1023.4,692.4 L1023.6,693.9 L1023.7,695.5 L1023.8,697.0 L1023.9,698.5 L1024.0,700.1 L1024.2,701.6 L1024.3,703.1 L1024.4,704.7 L1024.5,706.2 L1024.6,707.8 L1024.7,709.3 L1024.8,710.9 L1024.9,712.4 L1025.0,714.0 L1025.1,715.5 L1025.2,717.1 L1025.3,718.6 L1025.4,720.1 L1025.5,721.6 L1025.6,723.1 L1025.7,724.6 L1025.8,726.1 L1025.9,727.6 L1026.0,729.1 L1026.1,730.6 L1026.2,732.0 L1026.3,733.4 L1026.3,734.9 L1026.4,736.3 L1026.5,737.6 L1026.6,739.0 L1026.7,740.4 L1026.8,741.7 L1026.9,743.0 L1027.0,744.6 L1027.0,746.1 L1027.1,747.6 L1027.2,749.1 L1027.3,750.6 L1027.4,752.0 L1027.5,753.4 L1027.6,754.9 L1027.7,756.3 L1027.8,757.7 L1027.9,759.1 L1028.0,760.5 L1028.1,761.8 L1028.2,763.2 L1028.3,764.6 L1028.4,766.0 L1028.5,767.4 L1028.6,768.9 L1028.7,770.3 L1028.8,771.7 L1028.9,773.2 L1029.1,774.7 L1029.2,776.7 L1029.4,778.7 L1029.6,780.7 L1029.7,782.6 L1029.9,784.5 L1030.1,786.2 L1030.3,787.7 L1030.5,789.0 L1030.7,790.1 L1030.9,790.9 L1031.1,791.4 L1031.3,791.6 L1031.5,791.4 L1031.7,790.7 L1031.9,789.7 L1032.2,788.4 L1032.4,786.9 L1032.7,785.2 L1032.9,783.3 L1033.2,781.5 L1033.4,779.6 L1033.7,778.3 L1033.9,776.9 L1034.1,775.6 L1034.3,774.3 L1034.6,773.1 L1034.8,771.8 L1035.0,770.5 L1035.3,769.2 L1035.5,767.9 L1035.8,766.5 L1036.0,765.1 L1036.3,763.7 L1036.5,762.2 L1036.8,760.6 L1037.0,759.0 L1037.3,757.2 L1037.5,756.0 L1037.6,754.8 L1037.8,753.6 L1038.0,752.3 L1038.1,750.9 L1038.3,749.6 L1038.5,748.2 L1038.6,746.8 L1038.8,745.3 L1039.0,743.9 L1039.1,742.4 L1039.3,740.9 L1039.5,739.4 L1039.7,737.8 L1039.8,736.3 L1040.0,734.7 L1040.2,733.1 L1040.3,731.6 L1040.5,730.0 L1040.7,728.4 L1040.8,726.8 L1041.0,725.2 L1041.2,723.6 L1041.3,722.0 L1041.5,720.4 L1041.7,718.8 L1041.8,717.2 L1042.0,715.7 L1042.1,714.1 L1042.3,712.6 L1042.5,711.1 L1042.6,709.6 L1042.8,708.1 L1042.9,706.6 L1043.1,705.2 L1043.3,703.7 L1043.4,702.4 L1043.6,701.0 L1043.7,699.7 L1043.9,697.8 L1044.2,696.1 L1044.4,694.3 L1044.6,692.7 L1044.8,691.1 L1045.0,689.5 L1045.2,688.0 L1045.4,686.6 L1045.7,685.1 L1045.9,683.7 L1046.1,682.4 L1046.3,681.0 L1046.5,679.7 L1046.8,678.4 L1047.0,677.2 L1047.2,675.9 L1047.5,674.7 L1047.7,673.5 L1048.0,672.3 L1048.3,670.8 L1048.6,669.4 L1048.9,667.9 L1049.2,666.5 L1049.5,665.1 L1049.9,663.7 L1050.2,662.3 L1050.6,660.9 L1051.0,659.5 L1051.4,658.2 L1051.8,656.9 L1052.2,655.6 L1052.7,654.3 L1053.2,652.9 L1053.8,651.5 L1054.3,650.2 L1054.9,648.8 L1055.5,647.5 L1056.2,646.3 L1056.8,645.0 L1057.4,643.8 L1058.1,642.6 L1058.7,641.4 L1059.4,640.1 L1060.1,638.9 L1060.8,637.7 L1061.6,636.4 L1062.3,635.3 L1063.1,634.1 L1064.0,632.9 L1064.9,631.8 L1065.9,630.6 L1066.8,629.7 L1067.7,628.7 L1068.8,627.7 L1069.8,626.8 L1070.9,625.9 L1072.0,625.0 L1073.1,624.2 L1074.2,623.4 L1075.4,622.6 L1076.5,621.9 L1077.6,621.2 L1078.9,620.5 L1080.2,619.8 L1081.4,619.2 L1082.7,618.6 L1084.0,618.0 L1085.3,617.5 L1086.7,617.1 L1088.0,616.6 L1089.5,616.2 L1090.7,615.9 L1092.0,615.5 L1093.3,615.2 L1094.7,614.9 L1096.0,614.7 L1097.4,614.4 L1098.8,614.1 L1100.3,613.9 L1101.7,613.7 L1103.2,613.5 L1104.7,613.3 L1106.1,613.1 L1107.6,613.0 L1109.0,612.8 L1110.3,612.7 L1111.6,612.6 L1113.0,612.5 L1114.3,612.4 L1115.7,612.4 L1117.1,612.3 L1118.5,612.3 L1119.8,612.2 L1121.3,612.2 L1122.7,612.2 L1124.1,612.2 L1125.6,612.2 L1127.1,612.2 L1128.6,612.2 L1130.2,612.2 L1131.5,612.2 L1132.8,612.3 L1134.2,612.3 L1135.6,612.3 L1137.0,612.4 L1138.4,612.4 L1139.8,612.5 L1141.2,612.6 L1142.7,612.6 L1144.2,612.7 L1145.6,612.8 L1147.1,612.8 L1148.6,612.9 L1150.1,613.0 L1151.6,613.1 L1153.1,613.2 L1154.6,613.3 L1156.1,613.4 L1157.6,613.5 L1159.1,613.6 L1160.6,613.7 L1162.2,613.8 L1163.7,614.0 L1165.2,614.1 L1166.6,614.2 L1168.1,614.3 L1169.6,614.5 L1171.1,614.6 L1172.5,614.7 L1174.0,614.8 L1175.5,615.0 L1176.9,615.1 L1178.4,615.2 L1179.9,615.3 L1181.3,615.4 L1182.8,615.5 L1184.2,615.6 L1185.7,615.7 L1187.2,615.8 L1188.6,615.9 L1190.1,616.0 L1191.5,616.0 L1193.0,616.1 L1194.5,616.1 L1195.9,616.2 L1197.4,616.2 L1198.8,616.2 L1200.4,616.2 L1202.0,616.2 L1203.6,616.1 L1205.1,616.1 L1206.7,616.0 L1208.2,615.9 L1209.8,615.9 L1211.3,615.8 L1212.8,615.7 L1214.3,615.5 L1215.7,615.4 L1217.2,615.3 L1218.6,615.1 L1219.9,615.0 L1221.3,614.8 L1222.6,614.7 L1223.9,614.5 L1225.1,614.3 L1226.3,614.1 L1227.4,614.0 L1228.9,613.7 L1230.4,613.4 L1231.8,613.1 L1233.1,612.8 L1234.4,612.5 L1235.7,612.2 L1237.0,611.8 L1238.4,611.4 L1239.7,610.9 L1241.1,610.5 L1242.4,610.0 L1243.7,609.5 L1245.1,609.0 L1246.5,608.5 L1247.9,607.9 L1249.3,607.3 L1250.7,606.6 L1252.1,605.9 L1253.4,605.2 L1254.8,604.5 L1256.1,603.7 L1257.4,602.9 L1258.6,602.1 L1259.8,601.2 L1261.0,600.3 L1262.2,599.3 L1263.2,598.3 L1264.3,597.2 L1265.3,596.2 L1266.2,595.1 L1267.2,594.0 L1268.1,592.9 L1269.0,591.7 L1270.0,590.6 L1270.9,589.4 L1271.9,588.3 L1273.0,587.0 L1274.2,585.8 L1275.3,584.7 L1276.5,583.6 L1277.6,582.7 L1278.7,582.0 L1279.8,581.5 L1280.8,581.3 L1281.8,581.3 L1282.7,581.7 L1283.6,582.4 L1284.4,583.3 L1285.2,584.5 L1286.0,585.8 L1286.8,587.3 L1287.6,588.9 L1288.5,590.4 L1289.5,592.0 L1290.4,593.3 L1291.4,594.6 L1292.4,595.8 L1293.5,597.0 L1294.6,598.0 L1295.8,599.0 L1297.0,599.9 L1298.2,600.7 L1299.5,601.3 L1300.7,601.9 L1302.0,602.3 L1303.2,602.5 L1304.5,602.6 L1305.8,602.5 L1307.0,602.3 L1308.3,602.0 L1309.5,601.5 L1310.8,601.0 L1312.1,600.4 L1313.4,599.7 L1314.8,598.9 L1316.1,598.1 L1317.5,597.3 L1318.7,596.6 L1319.8,595.9 L1321.0,595.2 L1322.2,594.5 L1323.4,593.7 L1324.6,593.0 L1325.9,592.2 L1327.1,591.5 L1328.4,590.7 L1329.7,590.0 L1331.0,589.2 L1332.3,588.4 L1333.6,587.6 L1335.0,586.8 L1336.3,586.0 L1337.7,585.2 L1339.0,584.4 L1340.3,583.6 L1341.7,582.8"/>
<path stroke="#ff0000" d="M927.4,786.4 L928.9,786.3 L930.5,786.2 L932.0,786.0 L933.6,785.9 L935.1,785.8 L936.6,785.7 L938.1,785.6 L939.7,785.5 L941.2,785.4 L942.7,785.3 L944.2,785.2 L945.7,785.1 L947.2,785.1 L948.7,785.0 L950.1,784.9 L951.6,784.9 L953.0,784.8 L954.5,784.7 L955.9,784.7 L957.3,784.7 L958.7,784.6 L960.3,784.6 L961.8,784.6 L963.4,784.6 L964.9,784.6 L966.4,784.6 L967.9,784.7 L969.3,784.7 L970.8,784.8 L972.2,784.9 L973.6,785.0 L975.0,785.2 L976.4,785.3 L977.8,785.5 L979.1,785.7 L980.5,785.9 L981.8,786.1 L983.3,786.4 L984.8,786.8 L986.3,787.1 L987.8,787.5 L989.2,787.9 L990.7,788.3 L992.1,788.7 L993.5,789.2 L994.8,789.6 L996.2,790.0 L997.5,790.5 L998.8,790.9 L1000.4,791.3 L1001.9,791.8 L1003.4,792.2 L1004.9,792.5 L1006.3,792.8 L1007.7,792.9 L1009.1,792.9 L1010.4,792.9 L1011.8,792.6 L1013.1,792.1 L1014.4,791.5 L1015.5,790.6 L1016.6,789.5 L1017.5,788.1 L1018.0,787.1 L1018.5,786.1 L1018.9,784.9 L1019.3,783.6 L1019.6,782.3 L1019.9,780.9 L1020.2,779.5 L1020.5,778.0 L1020.7,776.5 L1020.9,774.9 L1021.1,773.3 L1021.3,771.6 L1021.5,770.0 L1021.7,768.3 L1021.9,766.7 L1022.1,765.2 L1022.3,763.6 L1022.5,762.1 L1022.7,760.6 L1022.9,759.1 L1023.2,757.6 L1023.4,756.1 L1023.6,754.6 L1023.8,753.1 L1024.0,751.6 L1024.3,750.2 L1024.5,748.7 L1024.7,747.2 L1024.9,745.8 L1025.1,744.3 L1025.4,742.9 L1025.6,741.5 L1025.8,740.0 L1025.9,738.6 L1026.1,737.1 L1026.3,735.6 L1026.5,734.2 L1026.7,732.8 L1026.8,731.3 L1027.0,729.9 L1027.2,728.5 L1027.3,727.1 L1027.5,725.7 L1027.6,724.3 L1027.8,722.9 L1028.0,721.5 L1028.1,720.1 L1028.3,718.7 L1028.5,717.4 L1028.7,715.9 L1028.9,714.4 L1029.1,713.0 L1029.4,711.5 L1029.6,710.1 L1029.9,708.6 L1030.1,707.2 L1030.4,705.8 L1030.7,704.4 L1031.0,703.0 L1031.3,701.6 L1031.6,700.2 L1032.0,698.8 L1032.3,697.4 L1032.9,695.6 L1033.4,693.8 L1034.0,692.2 L1034.6,690.8 L1035.3,689.7 L1036.0,689.0 L1036.7,688.7 L1037.4,688.9 L1038.1,689.4 L1038.8,690.2 L1039.5,691.2 L1040.3,692.5 L1041.1,694.0 L1041.9,695.6 L1042.7,697.3 L1043.6,699.1 L1044.4,700.9 L1045.1,702.3 L1045.8,703.6 L1046.4,705.0 L1047.1,706.3 L1047.8,707.6 L1048.5,708.9 L1049.3,710.2 L1050.0,711.5 L1050.8,712.7 L1051.6,713.9 L1052.4,715.1 L1053.2,716.2 L1054.1,717.3 L1054.9,718.4 L1055.8,719.4 L1056.8,720.3 L1057.7,721.2 L1058.7,722.1 L1060.0,723.0 L1061.2,723.9 L1062.5,724.7 L1063.9,725.5 L1065.2,726.2 L1066.6,726.8 L1068.0,727.4 L1069.4,727.9 L1070.8,728.4 L1072.2,728.8 L1073.6,729.3 L1074.9,729.7 L1076.3,730.1 L1077.7,730.4 L1079.0,730.8 L1080.3,731.2 L1081.7,731.5 L1083.0,731.9 L1084.3,732.2 L1085.7,732.5 L1087.1,732.8 L1088.4,733.1 L1089.9,733.3 L1091.3,733.6 L1092.8,733.8 L1094.1,734.0 L1095.5,734.2 L1096.9,734.3 L1098.3,734.5 L1099.8,734.6 L1101.2,734.8 L1102.7,734.9 L1104.2,735.0 L1105.7,735.1 L1107.2,735.2 L1108.6,735.3 L1110.1,735.4 L1111.6,735.4 L1113.0,735.5 L1114.5,735.5 L1115.9,735.5 L1117.3,735.6 L1118.6,735.6 L1120.0,735.6 L1121.3,735.6 L1122.6,735.6 L1124.0,735.6 L1125.3,735.5 L1126.7,735.5 L1128.1,735.4 L1129.5,735.4 L1131.0,735.3 L1132.5,735.2 L1134.0,735.1 L1135.6,735.0 L1137.2,734.9 L1138.9,734.8 L1140.3,734.7 L1141.7,734.6 L1143.1,734.5 L1144.6,734.4 L1146.0,734.3 L1147.6,734.1 L1149.1,734.0 L1150.6,733.9 L1152.2,733.7 L1153.8,733.6 L1155.3,733.5 L1156.9,733.3 L1158.5,733.2 L1160.1,733.1 L1161.7,732.9 L1163.2,732.8 L1164.8,732.7 L1166.3,732.6 L1167.8,732.4 L1169.3,732.3 L1170.8,732.2 L1172.3,732.1 L1173.7,732.0 L1175.1,731.9 L1176.4,731.8 L1177.7,731.7 L1178.9,731.6 L1180.2,731.6 L1181.8,731.5 L1183.3,731.4 L1184.8,731.3 L1186.2,731.3 L1187.6,731.3 L1188.9,731.3 L1190.2,731.3 L1191.5,731.3 L1192.8,731.3 L1194.1,731.4 L1195.4,731.4 L1196.8,731.5 L1198.3,731.6 L1199.6,731.6 L1200.9,731.7 L1202.3,731.8 L1203.7,731.9 L1205.2,732.0 L1206.7,732.1 L1208.2,732.3 L1209.7,732.4 L1211.3,732.5 L1212.8,732.7 L1214.4,732.8 L1215.9,733.0 L1217.5,733.2 L1219.0,733.3 L1220.5,733.5 L1222.0,733.7 L1223.5,733.9 L1224.9,734.1 L1226.3,734.3 L1227.9,734.5 L1229.5,734.8 L1230.9,735.1 L1232.4,735.4 L1233.8,735.7 L1235.2,736.0 L1236.5,736.4 L1237.8,736.8 L1239.0,737.3 L1240.3,737.8 L1241.5,738.3 L1242.7,738.9 L1243.9,739.5 L1245.1,740.2 L1246.3,741.0 L1247.5,741.8 L1248.6,742.7 L1249.8,743.6 L1250.9,744.6 L1252.0,745.5 L1253.1,746.6 L1254.2,747.6 L1255.2,748.7 L1256.2,749.8 L1257.2,750.9 L1258.2,752.0 L1259.0,753.0 L1259.9,754.1 L1260.7,755.1 L1261.5,756.2 L1262.3,757.3 L1263.1,758.4 L1263.9,759.5 L1264.7,760.6 L1265.4,761.8 L1266.2,763.0 L1267.0,764.2 L1267.8,765.5 L1268.6,766.8 L1269.4,768.1 L1270.3,769.4 L1271.3,771.0 L1272.3,772.6 L1273.3,774.2 L1274.3,775.8 L1275.4,777.2 L1276.4,778.6 L1277.4,779.8 L1278.5,780.8 L1279.5,781.6 L1280.5,782.1 L1281.4,782.4 L1282.4,782.4 L1283.1,782.1 L1283.9,781.6 L1284.6,780.8 L1285.4,779.9 L1286.1,778.8 L1286.8,777.5 L1287.5,776.1 L1288.2,774.7 L1288.8,773.2 L1289.6,771.6 L1290.3,770.1 L1291.0,768.5 L1291.8,767.0 L1292.5,765.6 L1293.3,764.2 L1294.4,762.7 L1295.5,761.3 L1296.6,760.1 L1297.8,759.1 L1299.0,758.2 L1300.2,757.5 L1301.5,757.0 L1302.8,756.7 L1304.1,756.5 L1305.4,756.5 L1306.7,756.6 L1308.0,756.9 L1309.2,757.3 L1310.5,757.8 L1311.9,758.3 L1313.2,759.0 L1314.5,759.8 L1315.9,760.6 L1317.2,761.4 L1318.6,762.3 L1320.0,763.3 L1321.4,764.2 L1322.5,765.0 L1323.7,765.8 L1324.9,766.6 L1326.0,767.3 L1327.2,768.1 L1328.4,768.9 L1329.6,769.7 L1330.8,770.5 L1332.0,771.3 L1333.2,772.1 L1334.4,772.9 L1335.6,773.7 L1336.8,774.5 L1338.1,775.3 L1339.3,776.1 L1340.5,776.9 L1341.7,777.7"/>
<path stroke="#00c000" d="M927.4,768.7 L928.9,768.5 L930.5,768.2 L932.0,768.0 L933.5,767.8 L935.0,767.6 L936.5,767.4 L938.0,767.2 L939.4,767.0 L940.9,766.8 L942.3,766.6 L943.6,766.4 L945.0,766.2 L946.4,766.0 L947.7,765.8 L949.1,765.7 L950.4,765.5 L951.7,765.4 L953.1,765.3 L954.4,765.2 L955.8,765.2 L957.2,765.2 L958.7,765.2 L960.0,765.3 L961.4,765.4 L962.8,765.5 L964.2,765.7 L965.7,765.8 L967.1,766.1 L968.6,766.3 L970.0,766.6 L971.5,766.9 L972.9,767.2 L974.4,767.5 L975.8,767.9 L977.2,768.3 L978.5,768.7 L979.9,769.2 L981.3,769.7 L982.7,770.2 L984.0,770.7 L985.3,771.3 L986.5,771.9 L987.7,772.5 L988.9,773.2 L990.0,773.9 L991.1,774.6 L992.2,775.4 L993.5,776.3 L994.7,777.3 L995.8,778.3 L997.0,779.2 L998.1,780.2 L999.2,781.2 L1000.2,782.2 L1001.2,783.2 L1002.1,784.1 L1003.2,785.2 L1004.1,786.1 L1005.1,787.1 L1006.0,788.0 L1006.8,788.8 L1007.6,789.6 L1008.7,790.7 L1009.8,791.4 L1010.9,791.6 L1011.8,791.3 L1012.7,790.5 L1013.5,789.5 L1014.2,788.4 L1014.7,787.3 L1015.1,786.1 L1015.4,784.9 L1015.7,783.5 L1015.9,781.9 L1016.1,780.1 L1016.3,779.0 L1016.4,777.8 L1016.5,776.4 L1016.7,775.1 L1016.8,773.7 L1017.0,772.2 L1017.1,770.7 L1017.2,769.1 L1017.4,767.5 L1017.5,766.0 L1017.7,764.4 L1017.8,762.8 L1018.0,761.2 L1018.1,759.6 L1018.2,758.0 L1018.4,756.5 L1018.5,755.0 L1018.6,753.5 L1018.7,752.0 L1018.9,750.5 L1019.0,749.1 L1019.1,747.7 L1019.2,746.3 L1019.3,745.0 L1019.4,743.6 L1019.5,742.3 L1019.6,741.0 L1019.7,739.6 L1019.8,738.2 L1019.8,736.8 L1019.9,735.4 L1020.0,733.9 L1020.1,732.3 L1020.1,731.4 L1020.2,730.4 L1020.2,729.4 L1020.3,728.4 L1020.3,727.4 L1020.4,726.3 L1020.4,725.2 L1020.5,724.1 L1020.5,723.0 L1020.6,721.9 L1020.6,720.7 L1020.6,719.5 L1020.7,718.3 L1020.7,717.1 L1020.8,715.8 L1020.8,714.5 L1020.9,713.2 L1020.9,711.9 L1020.9,710.5 L1021.0,709.1 L1021.0,707.7 L1021.1,706.2 L1021.1,704.8 L1021.1,703.3 L1021.2,701.8 L1021.2,700.2 L1021.3,698.6 L1021.3,697.0 L1021.3,695.4 L1021.4,693.8 L1021.4,692.1 L1021.5,690.4 L1021.5,688.6 L1021.5,686.9 L1021.6,685.1 L1021.6,683.3 L1021.6,681.4 L1021.7,679.5 L1021.7,677.6 L1021.7,675.7 L1021.8,673.7 L1021.8,671.7 L1021.8,669.7 L1021.9,667.6 L1021.9,665.5 L1021.9,664.2 L1022.0,662.9 L1022.0,661.5 L1022.0,660.1 L1022.0,658.8 L1022.0,657.4 L1022.1,656.0 L1022.1,654.6 L1022.1,653.1 L1022.1,651.7 L1022.1,650.3 L1022.1,648.8 L1022.2,647.4 L1022.2,645.9 L1022.2,644.4 L1022.2,642.9 L1022.2,641.4 L1022.3,639.9 L1022.3,638.4 L1022.3,636.9 L1022.3,635.4 L1022.3,633.9 L1022.3,632.3 L1022.4,630.8 L1022.4,629.2 L1022.4,627.7 L1022.4,626.1 L1022.4,624.6 L1022.5,623.0 L1022.5,621.4 L1022.5,619.8 L1022.5,618.2 L1022.5,616.6 L1022.5,615.0 L1022.6,613.4 L1022.6,611.8 L1022.6,610.2 L1022.6,608.6 L1022.6,607.0 L1022.6,605.4 L1022.6,603.8 L1022.7,602.2 L1022.7,600.5 L1022.7,598.9 L1022.7,597.3 L1022.7,595.7 L1022.7,594.0 L1022.8,592.4 L1022.8,590.8 L1022.8,589.1 L1022.8,587.5 L1022.8,585.9 L1022.8,584.3 L1022.8,582.6 L1022.9,581.0 L1022.9,579.4 L1022.9,577.8 L1022.9,576.1 L1022.9,574.5 L1022.9,572.9 L1022.9,571.3 L1023.0,569.7 L1023.0,568.1 L1023.0,566.5 L1023.0,564.9 L1023.0,563.3 L1023.0,561.7 L1023.0,560.1 L1023.0,558.5 L1023.1,556.9 L1023.1,555.3 L1023.1,553.8 L1023.1,552.2 L1023.1,550.6 L1023.1,549.1 L1023.1,547.5 L1023.1,546.0 L1023.2,544.4 L1023.2,542.9 L1023.2,541.4 L1023.2,539.9 L1023.2,538.4 L1023.2,536.9 L1023.2,535.4 L1023.2,533.9 L1023.3,532.4 L1023.3,531.0 L1023.3,529.5 L1023.3,528.1 L1023.3,526.6 L1023.3,525.2 L1023.3,523.8 L1023.3,522.4 L1023.3,521.0 L1023.4,519.6 L1023.4,518.2 L1023.4,516.8 L1023.4,515.5 L1023.4,514.1 L1023.4,512.8 L1023.4,511.5 L1023.4,510.2 L1023.4,508.9 L1023.5,507.6 L1023.5,506.4 L1023.5,505.1 L1023.5,503.9 L1023.5,502.6 L1023.5,501.4 L1023.5,500.2 L1023.5,499.1 L1023.5,497.9 L1023.5,496.7 L1023.6,495.6 L1023.6,493.6 L1023.6,491.6 L1023.6,489.7 L1023.6,487.8 L1023.6,486.0 L1023.7,484.2 L1023.7,482.4 L1023.7,480.7 L1023.7,479.1 L1023.7,477.4 L1023.7,475.8 L1023.8,474.3 L1023.8,472.8 L1023.8,471.3 L1023.8,469.8 L1023.8,468.4 L1023.8,467.0 L1023.9,465.6 L1023.9,464.2 L1023.9,462.9 L1023.9,461.6 L1023.9,460.3 L1023.9,459.0 L1024.0,457.8 L1024.0,456.5 L1024.0,455.3 L1024.0,454.1 L1024.0,452.9 L1024.0,451.7 L1024.0,450.5 L1024.1,449.3 L1024.1,448.1 L1024.1,446.9 L1024.1,445.8"/>
<path stroke="#00c000" d="M1066.4,458.2 L1066.5,459.8 L1066.5,461.3 L1066.6,462.8 L1066.6,464.4 L1066.7,465.9 L1066.7,467.5 L1066.8,469.0 L1066.8,470.5 L1066.9,472.0 L1067.0,473.5 L1067.1,475.0 L1067.2,476.5 L1067.3,478.0 L1067.4,479.5 L1067.5,481.0 L1067.6,482.4 L1067.8,483.9 L1067.9,485.3 L1068.1,486.8 L1068.3,488.2 L1068.5,489.6 L1068.7,491.0 L1068.9,492.3 L1069.2,493.7 L1069.4,495.0 L1069.7,496.3 L1070.1,497.9 L1070.5,499.4 L1070.9,500.9 L1071.3,502.4 L1071.7,503.8 L1072.2,505.3 L1072.7,506.7 L1073.2,508.0 L1073.7,509.4 L1074.2,510.7 L1074.7,512.0 L1075.3,513.3 L1075.8,514.6 L1076.3,515.8 L1076.9,517.0 L1077.4,518.2 L1078.0,519.4 L1078.5,520.5 L1079.2,522.0 L1079.9,523.4 L1080.6,524.8 L1081.3,526.1 L1082.0,527.5 L1082.7,528.7 L1083.5,530.0 L1084.2,531.2 L1085.0,532.4 L1085.9,533.6 L1086.7,534.7 L1087.6,535.8 L1088.5,536.8 L1089.5,537.8 L1090.4,538.8 L1091.5,539.7 L1092.5,540.6 L1093.7,541.5 L1094.8,542.4 L1096.0,543.2 L1097.3,544.0 L1098.6,544.7 L1099.9,545.4 L1101.2,546.0 L1102.5,546.6 L1103.8,547.2 L1105.1,547.7 L1106.5,548.1 L1107.9,548.5 L1109.3,548.9 L1110.7,549.3 L1112.2,549.6 L1113.6,549.8 L1115.0,550.0 L1116.5,550.2 L1117.9,550.3 L1119.4,550.4 L1120.8,550.4 L1122.3,550.4 L1123.7,550.3 L1125.1,550.2 L1126.5,550.0 L1127.9,549.8 L1129.3,549.5 L1130.7,549.2 L1132.2,548.8 L1133.6,548.4 L1135.0,548.0 L1136.4,547.6 L1137.9,547.1 L1139.3,546.5 L1140.8,546.0 L1142.2,545.4 L1143.5,544.9 L1144.8,544.4 L1146.0,543.9 L1147.3,543.4 L1148.6,542.8 L1149.9,542.3 L1151.2,541.7 L1152.6,541.1 L1153.9,540.6 L1155.2,540.0 L1156.6,539.4 L1157.9,538.8 L1159.3,538.3 L1160.6,537.7 L1162.0,537.1 L1163.4,536.6 L1164.8,536.0 L1166.1,535.5 L1167.5,535.0 L1168.9,534.5 L1170.3,534.0 L1171.7,533.5 L1173.2,533.0 L1174.7,532.5 L1176.1,532.1 L1177.6,531.7 L1179.0,531.3 L1180.5,530.9 L1182.0,530.5 L1183.4,530.2 L1184.9,530.0 L1186.3,529.7 L1187.8,529.5 L1189.2,529.3 L1190.6,529.2 L1192.1,529.0 L1193.5,529.0 L1194.9,528.9 L1196.3,528.9 L1197.7,529.0 L1199.3,529.1 L1200.8,529.2 L1202.3,529.4 L1203.8,529.7 L1205.3,530.0 L1206.8,530.3 L1208.2,530.7 L1209.7,531.1 L1211.1,531.6 L1212.5,532.2 L1213.8,532.7 L1215.2,533.3 L1216.5,534.0 L1217.8,534.7 L1219.0,535.4 L1220.3,536.2 L1221.5,537.0 L1222.6,537.9 L1223.7,538.8 L1224.8,539.7 L1225.9,540.7 L1226.9,541.7 L1227.9,542.7 L1228.8,543.8 L1229.8,544.8 L1230.6,545.9 L1231.5,547.0 L1232.3,548.2 L1233.1,549.3 L1233.8,550.5 L1234.6,551.7 L1235.3,552.9 L1235.9,554.2 L1236.6,555.4 L1237.2,556.7 L1237.8,558.0 L1238.4,559.3 L1239.0,560.6 L1239.5,561.9 L1240.1,563.2 L1240.6,564.6 L1241.2,565.9 L1241.7,567.3 L1242.2,568.7 L1242.8,570.1 L1243.3,571.4 L1243.8,572.7 L1244.3,574.0 L1244.9,575.3 L1245.4,576.6 L1245.9,577.9 L1246.5,579.2 L1247.0,580.6 L1247.6,581.9 L1248.1,583.2 L1248.6,584.6 L1249.1,585.9 L1249.6,587.3 L1250.1,588.7 L1250.6,590.0 L1251.1,591.4 L1251.6,592.8 L1252.0,594.2 L1252.5,595.6 L1252.9,597.0 L1253.3,598.4 L1253.7,599.8 L1254.1,601.2 L1254.5,602.6 L1254.9,604.0 L1255.3,605.4 L1255.6,606.8 L1256.0,608.2 L1256.4,609.7 L1256.7,611.1 L1257.1,612.6 L1257.5,614.0 L1257.8,615.5 L1258.2,616.9 L1258.5,618.2 L1258.8,619.5 L1259.2,620.8 L1259.5,622.1 L1259.8,623.5 L1260.1,624.8 L1260.5,626.1 L1260.8,627.5 L1261.1,628.9 L1261.5,630.2 L1261.8,631.6 L1262.1,633.0 L1262.5,634.5 L1262.8,635.9 L1263.1,637.4 L1263.5,638.8 L1263.8,640.3 L1264.1,641.8 L1264.4,643.4 L1264.7,644.9 L1265.0,646.5 L1265.3,648.1 L1265.5,649.3 L1265.8,650.5 L1266.0,651.7 L1266.2,652.9 L1266.4,654.2 L1266.6,655.4 L1266.8,656.7 L1267.0,658.0 L1267.2,659.3 L1267.4,660.6 L1267.6,661.9 L1267.8,663.2 L1268.0,664.6 L1268.2,665.9 L1268.4,667.3 L1268.6,668.7 L1268.8,670.1 L1268.9,671.5 L1269.1,672.9 L1269.3,674.4 L1269.5,675.8 L1269.7,677.3 L1269.9,678.8 L1270.1,680.3 L1270.3,681.8 L1270.5,683.3 L1270.7,684.9 L1270.9,686.4 L1271.1,688.0 L1271.3,689.6 L1271.5,691.1 L1271.7,692.8 L1271.9,694.4 L1272.1,696.0 L1272.3,697.7 L1272.5,699.3 L1272.7,701.0 L1272.9,702.7 L1273.1,704.4 L1273.3,706.1 L1273.6,707.9 L1273.8,710.0 L1274.1,712.0 L1274.4,714.1 L1274.6,716.2 L1274.9,718.3 L1275.2,720.4 L1275.5,722.5 L1275.8,724.5 L1276.1,726.6 L1276.4,728.5 L1276.7,730.5 L1277.0,732.4 L1277.3,734.2 L1277.6,736.0 L1277.9,737.8 L1278.2,739.4 L1278.5,741.0 L1278.8,742.5 L1279.1,743.9 L1279.4,745.2 L1279.7,746.5 L1280.0,747.6 L1280.3,748.6 L1280.6,749.5 L1280.9,750.2 L1281.2,750.9 L1281.5,751.4 L1281.8,751.7 L1282.1,751.9 L1282.4,752.0 L1282.6,751.9 L1282.9,751.6 L1283.2,751.2 L1283.5,750.7 L1283.8,750.0 L1284.0,749.2 L1284.3,748.3 L1284.6,747.3 L1284.8,746.1 L1285.1,744.9 L1285.4,743.5 L1285.6,742.1 L1285.9,740.6 L1286.1,739.0 L1286.4,737.3 L1286.6,735.6 L1286.8,733.8 L1287.1,731.9 L1287.3,730.0 L1287.5,728.1 L1287.7,726.1 L1287.9,724.1 L1288.2,722.1 L1288.4,720.1 L1288.6,718.0 L1288.8,716.0 L1289.0,713.9 L1289.1,711.9 L1289.3,709.9 L1289.5,707.9 L1289.7,706.1 L1289.8,704.3 L1290.0,702.5 L1290.1,700.7 L1290.3,699.0 L1290.4,697.3 L1290.6,695.6 L1290.7,693.9 L1290.9,692.3 L1291.0,690.7 L1291.2,689.1 L1291.3,687.5 L1291.5,685.9 L1291.6,684.4 L1291.8,682.9 L1292.0,681.4 L1292.1,680.0 L1292.3,678.6 L1292.5,677.2 L1292.7,675.8 L1292.9,674.4 L1293.1,673.1 L1293.4,671.8 L1293.6,670.5 L1293.8,669.2 L1294.1,668.0 L1294.4,666.7 L1294.6,665.5 L1294.9,664.4 L1295.2,663.2 L1295.6,662.1 L1295.9,661.0 L1296.3,659.9 L1296.6,658.8 L1297.4,656.9 L1298.2,655.1 L1299.0,653.4 L1299.9,651.9 L1300.8,650.5 L1301.7,649.3 L1302.6,648.4 L1303.6,647.7 L1304.5,647.2 L1305.4,647.1 L1306.4,647.3 L1307.3,647.7 L1308.2,648.4 L1309.1,649.4 L1309.9,650.6 L1310.8,651.9 L1311.7,653.5 L1312.5,655.1 L1313.4,656.9 L1314.2,658.8 L1314.8,660.1 L1315.3,661.4 L1315.9,662.7 L1316.5,664.0 L1317.0,665.4 L1317.6,666.8 L1318.1,668.2 L1318.7,669.6 L1319.2,671.0 L1319.7,672.4 L1320.3,673.8 L1320.8,675.2 L1321.3,676.7 L1321.9,678.1 L1322.4,679.5 L1322.9,680.9 L1323.4,682.3 L1323.9,683.6 L1324.4,685.0 L1324.9,686.3 L1325.4,687.6 L1325.8,688.9 L1326.3,690.2 L1326.9,691.7 L1327.4,693.2 L1328.0,694.7 L1328.5,696.1 L1329.1,697.5 L1329.6,698.9 L1330.1,700.3 L1330.6,701.6 L1331.1,703.0 L1331.6,704.3 L1332.1,705.7 L1332.6,707.0 L1333.0,708.4 L1333.5,709.7 L1334.0,711.1 L1334.4,712.4 L1334.9,713.7 L1335.3,715.0 L1335.7,716.3 L1336.2,717.7 L1336.6,719.0 L1337.0,720.4 L1337.4,721.8 L1337.9,723.2 L1338.3,724.6 L1338.7,726.0 L1339.1,727.4 L1339.6,728.9 L1340.0,730.3 L1340.4,731.7 L1340.8,733.2 L1341.3,734.6 L1341.7,736.0"/>
</g>
<line x1="928.5" y1="520.5" x2="1340.6" y2="520.5" stroke="#000" stroke-width="2.6" stroke-dasharray="4.8 4.5"/>
<line x1="928.5" y1="570.4" x2="1340.6" y2="570.4" stroke="#000" stroke-width="2.6" stroke-dasharray="4.8 4.5"/>
<line x1="928.5" y1="615.2" x2="1340.6" y2="615.2" stroke="#000" stroke-width="2.6" stroke-dasharray="6.3 3.02 1.6 3.02"/>
<line x1="928.5" y1="734.8" x2="1340.6" y2="734.8" stroke="#000" stroke-width="2.6" stroke-dasharray="6.3 3.02 1.6 3.02"/>
<line x1="1078.5" y1="794.6" x2="1078.5" y2="495.6" stroke="#000" stroke-width="2.6" stroke-dasharray="4.8 4.5"/>
<line x1="1243.2" y1="794.6" x2="1243.2" y2="495.6" stroke="#000" stroke-width="2.6" stroke-dasharray="4.8 4.5"/>
<path d="M928.5,794.6v-9.6M928.5,495.6v9.6M983.4,794.6v-9.6M983.4,495.6v9.6M1038.4,794.6v-9.6M1038.4,495.6v9.6M1093.3,794.6v-9.6M1093.3,495.6v9.6M1148.3,794.6v-9.6M1148.3,495.6v9.6M1203.2,794.6v-9.6M1203.2,495.6v9.6M1258.2,794.6v-9.6M1258.2,495.6v9.6M1313.1,794.6v-9.6M1313.1,495.6v9.6M928.5,794.6h9.6M1340.6,794.6h-9.6M928.5,744.8h9.6M1340.6,744.8h-9.6M928.5,694.9h9.6M1340.6,694.9h-9.6M928.5,645.1h9.6M1340.6,645.1h-9.6M928.5,595.3h9.6M1340.6,595.3h-9.6M928.5,545.4h9.6M1340.6,545.4h-9.6M928.5,495.6h9.6M1340.6,495.6h-9.6" stroke="#000" stroke-width="2" fill="none"/>
<rect x="928.5" y="495.6" width="412.1" height="299.0" fill="none" stroke="#000" stroke-width="2.5"/>
<text x="893.7" y="807.2" font-family="'Liberation Serif', serif" font-size="37" text-anchor="start">0</text>
<text x="867.0" y="757.4" font-family="'Liberation Serif', serif" font-size="37" text-anchor="start">0.2</text>
<text x="865.0" y="707.5" font-family="'Liberation Serif', serif" font-size="37" text-anchor="start">0.4</text>
<text x="865.9" y="657.7" font-family="'Liberation Serif', serif" font-size="37" text-anchor="start">0.6</text>
<text x="866.4" y="607.9" font-family="'Liberation Serif', serif" font-size="37" text-anchor="start">0.8</text>
<text x="868.5" y="558.0" font-family="'Liberation Serif', serif" font-size="37" text-anchor="start">1.0</text>
<text x="869.5" y="508.2" font-family="'Liberation Serif', serif" font-size="37" text-anchor="start">1.2</text>
<text x="929.1" y="836.8" font-family="'Liberation Serif', serif" font-size="37" text-anchor="middle">3</text>
<text x="984.0" y="836.8" font-family="'Liberation Serif', serif" font-size="37" text-anchor="middle">4</text>
<text x="1039.0" y="836.8" font-family="'Liberation Serif', serif" font-size="37" text-anchor="middle">5</text>
<text x="1093.9" y="836.8" font-family="'Liberation Serif', serif" font-size="37" text-anchor="middle">6</text>
<text x="1148.9" y="836.8" font-family="'Liberation Serif', serif" font-size="37" text-anchor="middle">7</text>
<text x="1203.8" y="836.8" font-family="'Liberation Serif', serif" font-size="37" text-anchor="middle">8</text>
<text x="1258.8" y="836.8" font-family="'Liberation Serif', serif" font-size="37" text-anchor="middle">9</text>
<text x="1316.8" y="836.8" font-family="'Liberation Serif', serif" font-size="37" text-anchor="middle">10</text>
<text x="1134.5" y="874.1" font-family="'Liberation Serif', serif" font-size="37" text-anchor="middle">Frequency / GHz</text>
<text x="-0.20" y="35.50" font-family="'Liberation Sans', sans-serif" font-size="42" font-weight="bold">(a)</text>
<text x="797.10" y="35.50" font-family="'Liberation Sans', sans-serif" font-size="42" font-weight="bold">(b)</text>
<text x="-0.20" y="473.20" font-family="'Liberation Sans', sans-serif" font-size="42" font-weight="bold">(c)</text>
<text x="797.10" y="473.20" font-family="'Liberation Sans', sans-serif" font-size="42" font-weight="bold">(d)</text>
<text x="279.95" y="34.20" font-family="'Liberation Serif', serif" font-size="37" font-style="italic">θ</text>
<text transform="translate(308.66,37.40) scale(1.45,1.0)" font-family="'Liberation Serif', serif" font-size="37">=</text>
<text x="348.00" y="34.20" font-family="'Liberation Serif', serif" font-size="37">0</text>
<text x="367.35" y="32.60" font-family="'Liberation Serif', serif" font-size="37">°</text>
<text x="930.95" y="34.20" font-family="'Liberation Serif', serif" font-size="37" font-style="italic">θ</text>
<text transform="translate(959.66,37.40) scale(1.45,1.0)" font-family="'Liberation Serif', serif" font-size="37">=</text>
<text x="999.15" y="34.20" font-family="'Liberation Serif', serif" font-size="37">15</text>
<text x="1036.15" y="32.60" font-family="'Liberation Serif', serif" font-size="37">°</text>
<text transform="translate(1064.95,33.60) scale(1.0,1.1)" font-family="'Liberation Serif', serif" font-size="37">(</text>
<text transform="translate(1079.35,32.70) scale(1.0,1.1)" font-family="'Liberation Serif', serif" font-size="37">|</text>
<text x="1088.00" y="34.20" font-family="'Liberation Serif', serif" font-size="37" font-style="italic">r</text>
<text transform="translate(1106.85,32.70) scale(1.0,1.1)" font-family="'Liberation Serif', serif" font-size="37">|</text>
<text x="1114.35" y="20.00" font-family="'Liberation Serif', serif" font-size="26.5">2</text>
<text x="1142.90" y="34.20" font-family="'Liberation Serif', serif" font-size="37">:</text>
<text transform="translate(1164.85,32.70) scale(1.0,1.1)" font-family="'Liberation Serif', serif" font-size="37">|</text>
<text x="1173.55" y="34.20" font-family="'Liberation Serif', serif" font-size="37" font-style="italic">t</text>
<text transform="translate(1188.65,32.70) scale(1.0,1.1)" font-family="'Liberation Serif', serif" font-size="37">|</text>
<text x="1197.85" y="20.00" font-family="'Liberation Serif', serif" font-size="26.5">2</text>
<text transform="translate(1223.96,37.40) scale(1.45,1.0)" font-family="'Liberation Serif', serif" font-size="37">=</text>
<text x="1263.25" y="34.20" font-family="'Liberation Serif', serif" font-size="37">3</text>
<text x="1292.10" y="34.20" font-family="'Liberation Serif', serif" font-size="37">:</text>
<text x="1312.85" y="34.20" font-family="'Liberation Serif', serif" font-size="37">1</text>
<text transform="translate(1332.35,33.60) scale(1.0,1.1)" font-family="'Liberation Serif', serif" font-size="37">)</text>
<text x="120.45" y="485.50" font-family="'Liberation Serif', serif" font-size="37" font-style="italic">θ</text>
<text transform="translate(149.16,487.70) scale(1.45,1.0)" font-family="'Liberation Serif', serif" font-size="37">=</text>
<text x="188.10" y="485.50" font-family="'Liberation Serif', serif" font-size="37">24</text>
<text x="225.25" y="483.90" font-family="'Liberation Serif', serif" font-size="37">°</text>
<text transform="translate(253.35,484.90) scale(1.0,1.1)" font-family="'Liberation Serif', serif" font-size="37">(</text>
<text transform="translate(266.75,484.00) scale(1.0,1.1)" font-family="'Liberation Serif', serif" font-size="37">|</text>
<text x="275.90" y="485.50" font-family="'Liberation Serif', serif" font-size="37" font-style="italic">r</text>
<text transform="translate(294.95,484.00) scale(1.0,1.1)" font-family="'Liberation Serif', serif" font-size="37">|</text>
<text x="304.25" y="471.30" font-family="'Liberation Serif', serif" font-size="26.5">2</text>
<text x="330.50" y="485.50" font-family="'Liberation Serif', serif" font-size="37">:</text>
<text transform="translate(352.65,484.00) scale(1.0,1.1)" font-family="'Liberation Serif', serif" font-size="37">|</text>
<text x="360.55" y="485.50" font-family="'Liberation Serif', serif" font-size="37" font-style="italic">t</text>
<text transform="translate(375.95,484.00) scale(1.0,1.1)" font-family="'Liberation Serif', serif" font-size="37">|</text>
<text x="385.65" y="471.30" font-family="'Liberation Serif', serif" font-size="26.5">2</text>
<text transform="translate(411.16,487.70) scale(1.45,1.0)" font-family="'Liberation Serif', serif" font-size="37">=</text>
<text x="450.85" y="485.50" font-family="'Liberation Serif', serif" font-size="37">1</text>
<text x="479.90" y="485.50" font-family="'Liberation Serif', serif" font-size="37">:</text>
<text x="500.15" y="485.50" font-family="'Liberation Serif', serif" font-size="37">1</text>
<text transform="translate(519.25,484.90) scale(1.0,1.1)" font-family="'Liberation Serif', serif" font-size="37">)</text>
<text x="930.05" y="485.50" font-family="'Liberation Serif', serif" font-size="37" font-style="italic">θ</text>
<text transform="translate(958.66,487.70) scale(1.45,1.0)" font-family="'Liberation Serif', serif" font-size="37">=</text>
<text x="998.15" y="485.50" font-family="'Liberation Serif', serif" font-size="37">33</text>
<text x="1034.75" y="483.90" font-family="'Liberation Serif', serif" font-size="37">°</text>
<text transform="translate(1060.35,484.90) scale(1.0,1.1)" font-family="'Liberation Serif', serif" font-size="37">(</text>
<text transform="translate(1074.15,484.00) scale(1.0,1.1)" font-family="'Liberation Serif', serif" font-size="37">|</text>
<text x="1083.50" y="485.50" font-family="'Liberation Serif', serif" font-size="37" font-style="italic">r</text>
<text transform="translate(1102.15,484.00) scale(1.0,1.1)" font-family="'Liberation Serif', serif" font-size="37">|</text>
<text x="1111.25" y="471.30" font-family="'Liberation Serif', serif" font-size="26.5">2</text>
<text x="1137.60" y="485.50" font-family="'Liberation Serif', serif" font-size="37">:</text>
<text transform="translate(1159.75,484.00) scale(1.0,1.1)" font-family="'Liberation Serif', serif" font-size="37">|</text>
<text x="1168.25" y="485.50" font-family="'Liberation Serif', serif" font-size="37" font-style="italic">t</text>
<text transform="translate(1183.75,484.00) scale(1.0,1.1)" font-family="'Liberation Serif', serif" font-size="37">|</text>
<text x="1192.75" y="471.30" font-family="'Liberation Serif', serif" font-size="26.5">2</text>
<text transform="translate(1218.16,487.70) scale(1.45,1.0)" font-family="'Liberation Serif', serif" font-size="37">=</text>
<text x="1257.85" y="485.50" font-family="'Liberation Serif', serif" font-size="37">1</text>
<text x="1286.90" y="485.50" font-family="'Liberation Serif', serif" font-size="37">:</text>
<text x="1307.35" y="485.50" font-family="'Liberation Serif', serif" font-size="37">3</text>
<text transform="translate(1326.35,484.90) scale(1.0,1.1)" font-family="'Liberation Serif', serif" font-size="37">)</text>
<text x="564.24" y="282.60" font-family="'Liberation Serif', serif" font-size="37">|</text>
<text x="571.64" y="282.60" font-family="'Liberation Serif', serif" font-size="37" stroke="#000" stroke-width="0.45" font-style="italic">r</text>
<text x="586.04" y="282.60" font-family="'Liberation Serif', serif" font-size="37">|</text>
<text x="593.45" y="269.10" font-family="'Liberation Serif', serif" font-size="26.5">2</text>
<line x1="626.9" y1="268.6" x2="696.9" y2="268.6" stroke="#ff0000" stroke-width="3.1"/>
<text x="568.35" y="338.20" font-family="'Liberation Serif', serif" font-size="37">|</text>
<text x="575.76" y="338.20" font-family="'Liberation Serif', serif" font-size="37" stroke="#000" stroke-width="0.45" font-style="italic">t</text>
<text x="586.04" y="338.20" font-family="'Liberation Serif', serif" font-size="37">|</text>
<text x="593.45" y="324.70" font-family="'Liberation Serif', serif" font-size="26.5">2</text>
<line x1="626.9" y1="326.5" x2="696.9" y2="326.5" stroke="#0000ff" stroke-width="3.1"/>
<text x="1509.74" y="224.00" font-family="'Liberation Serif', serif" font-size="37">|</text>
<text x="1517.14" y="224.00" font-family="'Liberation Serif', serif" font-size="37" stroke="#000" stroke-width="0.45" font-style="italic">r</text>
<text x="1531.54" y="224.00" font-family="'Liberation Serif', serif" font-size="37">|</text>
<text x="1538.95" y="210.50" font-family="'Liberation Serif', serif" font-size="26.5">2</text>
<line x1="1572.3" y1="210.5" x2="1650" y2="210.5" stroke="#ff0000" stroke-width="3.1"/>
<text x="1513.85" y="280.10" font-family="'Liberation Serif', serif" font-size="37">|</text>
<text x="1521.26" y="280.10" font-family="'Liberation Serif', serif" font-size="37" stroke="#000" stroke-width="0.45" font-style="italic">t</text>
<text x="1531.54" y="280.10" font-family="'Liberation Serif', serif" font-size="37">|</text>
<text x="1538.95" y="266.60" font-family="'Liberation Serif', serif" font-size="26.5">2</text>
<line x1="1572.3" y1="268.4" x2="1650" y2="268.4" stroke="#0000ff" stroke-width="3.1"/>
<text x="1424.95" y="336.80" font-family="'Liberation Serif', serif" font-size="37">(</text>
<text x="1437.28" y="336.80" font-family="'Liberation Serif', serif" font-size="37">1</text>
<text x="1455.78" y="336.80" font-family="'Liberation Serif', serif" font-size="37">/</text>
<text x="1466.05" y="336.80" font-family="'Liberation Serif', serif" font-size="37">3</text>
<text x="1484.55" y="336.80" font-family="'Liberation Serif', serif" font-size="37">)</text>
<text x="1496.88" y="336.80" font-family="'Liberation Serif', serif" font-size="37">|</text>
<text x="1504.28" y="336.80" font-family="'Liberation Serif', serif" font-size="37" stroke="#000" stroke-width="0.45" font-style="italic">r</text>
<text x="1518.68" y="336.80" font-family="'Liberation Serif', serif" font-size="37">/</text>
<text x="1528.96" y="336.80" font-family="'Liberation Serif', serif" font-size="37" stroke="#000" stroke-width="0.45" font-style="italic">t</text>
<text x="1539.24" y="336.80" font-family="'Liberation Serif', serif" font-size="37">|</text>
<text x="1546.65" y="323.30" font-family="'Liberation Serif', serif" font-size="26.5">2</text>
<line x1="1572.3" y1="326.7" x2="1650" y2="326.7" stroke="#00c000" stroke-width="3.1"/>
<text x="643.44" y="672.60" font-family="'Liberation Serif', serif" font-size="37">|</text>
<text x="650.84" y="672.60" font-family="'Liberation Serif', serif" font-size="37" stroke="#000" stroke-width="0.45" font-style="italic">r</text>
<text x="665.24" y="672.60" font-family="'Liberation Serif', serif" font-size="37">|</text>
<text x="672.65" y="659.10" font-family="'Liberation Serif', serif" font-size="26.5">2</text>
<line x1="706.6" y1="658.6" x2="776.7" y2="658.6" stroke="#ff0000" stroke-width="3.1"/>
<text x="647.55" y="728.10" font-family="'Liberation Serif', serif" font-size="37">|</text>
<text x="654.96" y="728.10" font-family="'Liberation Serif', serif" font-size="37" stroke="#000" stroke-width="0.45" font-style="italic">t</text>
<text x="665.24" y="728.10" font-family="'Liberation Serif', serif" font-size="37">|</text>
<text x="672.65" y="714.60" font-family="'Liberation Serif', serif" font-size="26.5">2</text>
<line x1="706.6" y1="716.7" x2="776.7" y2="716.7" stroke="#0000ff" stroke-width="3.1"/>
<text x="623.78" y="786.50" font-family="'Liberation Serif', serif" font-size="37">|</text>
<text x="631.18" y="786.50" font-family="'Liberation Serif', serif" font-size="37" stroke="#000" stroke-width="0.45" font-style="italic">r</text>
<text x="645.58" y="786.50" font-family="'Liberation Serif', serif" font-size="37">/</text>
<text x="655.86" y="786.50" font-family="'Liberation Serif', serif" font-size="37" stroke="#000" stroke-width="0.45" font-style="italic">t</text>
<text x="666.14" y="786.50" font-family="'Liberation Serif', serif" font-size="37">|</text>
<text x="673.55" y="773.00" font-family="'Liberation Serif', serif" font-size="26.5">2</text>
<line x1="706.6" y1="774.6" x2="776.7" y2="774.6" stroke="#00c000" stroke-width="3.1"/>
<text x="1497.54" y="674.00" font-family="'Liberation Serif', serif" font-size="37">|</text>
<text x="1504.94" y="674.00" font-family="'Liberation Serif', serif" font-size="37" stroke="#000" stroke-width="0.45" font-style="italic">r</text>
<text x="1519.34" y="674.00" font-family="'Liberation Serif', serif" font-size="37">|</text>
<text x="1526.75" y="660.50" font-family="'Liberation Serif', serif" font-size="26.5">2</text>
<line x1="1560.4" y1="659.5" x2="1629.5" y2="659.5" stroke="#ff0000" stroke-width="3.1"/>
<text x="1501.65" y="729.40" font-family="'Liberation Serif', serif" font-size="37">|</text>
<text x="1509.06" y="729.40" font-family="'Liberation Serif', serif" font-size="37" stroke="#000" stroke-width="0.45" font-style="italic">t</text>
<text x="1519.34" y="729.40" font-family="'Liberation Serif', serif" font-size="37">|</text>
<text x="1526.75" y="715.90" font-family="'Liberation Serif', serif" font-size="26.5">2</text>
<line x1="1560.4" y1="717.8" x2="1629.5" y2="717.8" stroke="#0000ff" stroke-width="3.1"/>
<text x="1458.48" y="786.50" font-family="'Liberation Serif', serif" font-size="37">3</text>
<text x="1476.98" y="786.50" font-family="'Liberation Serif', serif" font-size="37">|</text>
<text x="1484.38" y="786.50" font-family="'Liberation Serif', serif" font-size="37" stroke="#000" stroke-width="0.45" font-style="italic">r</text>
<text x="1498.78" y="786.50" font-family="'Liberation Serif', serif" font-size="37">/</text>
<text x="1509.06" y="786.50" font-family="'Liberation Serif', serif" font-size="37" stroke="#000" stroke-width="0.45" font-style="italic">t</text>
<text x="1519.34" y="786.50" font-family="'Liberation Serif', serif" font-size="37">|</text>
<text x="1526.75" y="773.00" font-family="'Liberation Serif', serif" font-size="26.5">2</text>
<line x1="1560.4" y1="775.6" x2="1629.5" y2="775.6" stroke="#00c000" stroke-width="3.1"/>
<text x="1348.50" y="177.20" font-family="'Liberation Serif', serif" font-size="37">0.72</text>
<text x="1349.70" y="296.70" font-family="'Liberation Serif', serif" font-size="37">0.24</text>
<text x="536.70" y="687.30" font-family="'Liberation Serif', serif" font-size="37">0.48</text>
<text x="1346.30" y="626.90" font-family="'Liberation Serif', serif" font-size="37">0.72</text>
<text x="1347.60" y="745.50" font-family="'Liberation Serif', serif" font-size="37">0.24</text>
<g transform="translate(39.6,242.7) rotate(-90)">
<text x="-2.75" y="0.00" font-family="'Liberation Serif', serif" font-size="37">|</text>
<text x="4.66" y="0.00" font-family="'Liberation Serif', serif" font-size="37" stroke="#000" stroke-width="0.45" font-style="italic">r</text>
<text x="19.06" y="0.00" font-family="'Liberation Serif', serif" font-size="37">|</text>
<text x="26.48" y="-13.50" font-family="'Liberation Serif', serif" font-size="26.5">2</text>
<text x="39.73" y="0.00" font-family="'Liberation Serif', serif" font-size="37">,</text>
<text x="48.99" y="0.00" font-family="'Liberation Serif', serif" font-size="37"> </text>
<text x="58.24" y="0.00" font-family="'Liberation Serif', serif" font-size="37">|</text>
<text x="65.65" y="0.00" font-family="'Liberation Serif', serif" font-size="37" stroke="#000" stroke-width="0.45" font-style="italic">t</text>
<text x="75.93" y="0.00" font-family="'Liberation Serif', serif" font-size="37">|</text>
<text x="83.35" y="-13.50" font-family="'Liberation Serif', serif" font-size="26.5">2</text>
</g>
<g transform="translate(846.2,321.7) rotate(-90)">
<text x="-2.73" y="0.00" font-family="'Liberation Serif', serif" font-size="37">|</text>
<text x="4.62" y="0.00" font-family="'Liberation Serif', serif" font-size="37" stroke="#000" stroke-width="0.45" font-style="italic">r</text>
<text x="18.91" y="0.00" font-family="'Liberation Serif', serif" font-size="37">|</text>
<text x="26.26" y="-13.50" font-family="'Liberation Serif', serif" font-size="26.5">2</text>
<text x="39.41" y="0.00" font-family="'Liberation Serif', serif" font-size="37">,</text>
<text x="48.59" y="0.00" font-family="'Liberation Serif', serif" font-size="37"> </text>
<text x="57.77" y="0.00" font-family="'Liberation Serif', serif" font-size="37">|</text>
<text x="65.12" y="0.00" font-family="'Liberation Serif', serif" font-size="37" stroke="#000" stroke-width="0.45" font-style="italic">t</text>
<text x="75.32" y="0.00" font-family="'Liberation Serif', serif" font-size="37">|</text>
<text x="82.67" y="-13.50" font-family="'Liberation Serif', serif" font-size="26.5">2</text>
<text x="95.82" y="0.00" font-family="'Liberation Serif', serif" font-size="37">,</text>
<text x="105.00" y="0.00" font-family="'Liberation Serif', serif" font-size="37"> </text>
<text x="114.18" y="0.00" font-family="'Liberation Serif', serif" font-size="37">(</text>
<text x="126.40" y="0.00" font-family="'Liberation Serif', serif" font-size="37">1</text>
<text x="144.76" y="0.00" font-family="'Liberation Serif', serif" font-size="37">/</text>
<text x="154.96" y="0.00" font-family="'Liberation Serif', serif" font-size="37">3</text>
<text x="173.32" y="0.00" font-family="'Liberation Serif', serif" font-size="37">)</text>
<text x="185.55" y="0.00" font-family="'Liberation Serif', serif" font-size="37">|</text>
<text x="192.90" y="0.00" font-family="'Liberation Serif', serif" font-size="37" stroke="#000" stroke-width="0.45" font-style="italic">r</text>
<text x="207.19" y="0.00" font-family="'Liberation Serif', serif" font-size="37">/</text>
<text x="217.39" y="0.00" font-family="'Liberation Serif', serif" font-size="37" stroke="#000" stroke-width="0.45" font-style="italic">t</text>
<text x="227.59" y="0.00" font-family="'Liberation Serif', serif" font-size="37">|</text>
<text x="234.94" y="-13.50" font-family="'Liberation Serif', serif" font-size="26.5">2</text>
</g>
<g transform="translate(36.0,732.5) rotate(-90)">
<text x="-2.72" y="0.00" font-family="'Liberation Serif', serif" font-size="37">|</text>
<text x="4.61" y="0.00" font-family="'Liberation Serif', serif" font-size="37" stroke="#000" stroke-width="0.45" font-style="italic">r</text>
<text x="18.86" y="0.00" font-family="'Liberation Serif', serif" font-size="37">|</text>
<text x="26.20" y="-13.50" font-family="'Liberation Serif', serif" font-size="26.5">2</text>
<text x="39.31" y="0.00" font-family="'Liberation Serif', serif" font-size="37">,</text>
<text x="48.47" y="0.00" font-family="'Liberation Serif', serif" font-size="37"> </text>
<text x="57.63" y="0.00" font-family="'Liberation Serif', serif" font-size="37">|</text>
<text x="64.96" y="0.00" font-family="'Liberation Serif', serif" font-size="37" stroke="#000" stroke-width="0.45" font-style="italic">t</text>
<text x="75.14" y="0.00" font-family="'Liberation Serif', serif" font-size="37">|</text>
<text x="82.47" y="-13.50" font-family="'Liberation Serif', serif" font-size="26.5">2</text>
<text x="95.59" y="0.00" font-family="'Liberation Serif', serif" font-size="37">,</text>
<text x="104.74" y="0.00" font-family="'Liberation Serif', serif" font-size="37"> </text>
<text x="113.90" y="0.00" font-family="'Liberation Serif', serif" font-size="37">|</text>
<text x="121.23" y="0.00" font-family="'Liberation Serif', serif" font-size="37" stroke="#000" stroke-width="0.45" font-style="italic">r</text>
<text x="135.48" y="0.00" font-family="'Liberation Serif', serif" font-size="37">/</text>
<text x="145.66" y="0.00" font-family="'Liberation Serif', serif" font-size="37" stroke="#000" stroke-width="0.45" font-style="italic">t</text>
<text x="155.84" y="0.00" font-family="'Liberation Serif', serif" font-size="37">|</text>
<text x="163.17" y="-13.50" font-family="'Liberation Serif', serif" font-size="26.5">2</text>
</g>
<g transform="translate(846.0,740.0) rotate(-90)">
<text x="-2.74" y="0.00" font-family="'Liberation Serif', serif" font-size="37">|</text>
<text x="4.64" y="0.00" font-family="'Liberation Serif', serif" font-size="37" stroke="#000" stroke-width="0.45" font-style="italic">r</text>
<text x="19.00" y="0.00" font-family="'Liberation Serif', serif" font-size="37">|</text>
<text x="26.39" y="-13.50" font-family="'Liberation Serif', serif" font-size="26.5">2</text>
<text x="39.60" y="0.00" font-family="'Liberation Serif', serif" font-size="37">,</text>
<text x="48.82" y="0.00" font-family="'Liberation Serif', serif" font-size="37"> </text>
<text x="58.04" y="0.00" font-family="'Liberation Serif', serif" font-size="37">|</text>
<text x="65.43" y="0.00" font-family="'Liberation Serif', serif" font-size="37" stroke="#000" stroke-width="0.45" font-style="italic">t</text>
<text x="75.68" y="0.00" font-family="'Liberation Serif', serif" font-size="37">|</text>
<text x="83.06" y="-13.50" font-family="'Liberation Serif', serif" font-size="26.5">2</text>
<text x="96.27" y="0.00" font-family="'Liberation Serif', serif" font-size="37">,</text>
<text x="105.49" y="0.00" font-family="'Liberation Serif', serif" font-size="37"> </text>
<text x="114.72" y="0.00" font-family="'Liberation Serif', serif" font-size="37">3</text>
<text x="133.16" y="0.00" font-family="'Liberation Serif', serif" font-size="37">|</text>
<text x="140.55" y="0.00" font-family="'Liberation Serif', serif" font-size="37" stroke="#000" stroke-width="0.45" font-style="italic">r</text>
<text x="154.90" y="0.00" font-family="'Liberation Serif', serif" font-size="37">/</text>
<text x="165.15" y="0.00" font-family="'Liberation Serif', serif" font-size="37" stroke="#000" stroke-width="0.45" font-style="italic">t</text>
<text x="175.40" y="0.00" font-family="'Liberation Serif', serif" font-size="37">|</text>
<text x="182.79" y="-13.50" font-family="'Liberation Serif', serif" font-size="26.5">2</text>
</g>
</svg>
</body></html>
